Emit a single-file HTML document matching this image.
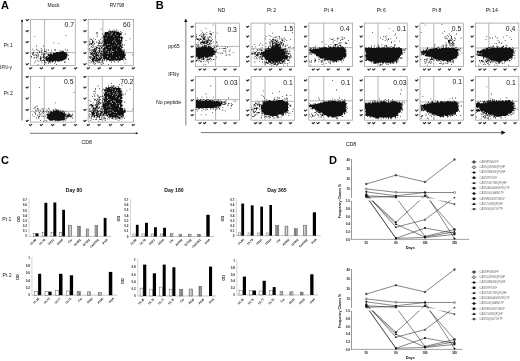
<!DOCTYPE html><html><head><meta charset="utf-8"><style>html,body{margin:0;padding:0;background:#fff;overflow:hidden}svg{display:block;will-change:transform}text{font-family:"Liberation Sans",sans-serif}</style></head><body><svg width="520" height="361" viewBox="0 0 520 361" font-family='"Liberation Sans", sans-serif'>
<defs><filter id="soft" x="-20%" y="-20%" width="140%" height="140%"><feGaussianBlur stdDeviation="0.45"/></filter><pattern id="hatch" width="1.2" height="4" patternUnits="userSpaceOnUse"><rect width="1.2" height="4" fill="#d0d0d0"/><rect width=".55" height="4" fill="#777"/></pattern></defs>
<rect width="520" height="361" fill="#fff"/>
<text x="1.0" y="9.0" font-size="11" text-anchor="start" font-weight="bold" fill="#000" >A</text>
<text x="53.5" y="7.4" font-size="5.0" text-anchor="middle" font-weight="normal" fill="#111" >Mock</text>
<text x="117" y="7.4" font-size="4.8" text-anchor="middle" font-weight="normal" fill="#111" >RV798</text>
<text x="3.8" y="46.6" font-size="5.1" text-anchor="start" font-weight="normal" fill="#111" >Pt 1</text>
<text x="3.8" y="95.0" font-size="5.1" text-anchor="start" font-weight="normal" fill="#111" >Pt 2</text>
<text x="0.1" y="69.4" font-size="4.8" text-anchor="start" font-weight="normal" fill="#111" >IFN-γ</text>
<line x1="22" y1="20" x2="22" y2="120.5" stroke="#a0a0a0" stroke-width="1.6" />
<rect x="21.2" y="19.8" width="1.6" height="2.2" fill="#222"/>
<line x1="30" y1="133.3" x2="136" y2="133.3" stroke="#666" stroke-width="0.9" />
<path d="M138.4 133.3l-2.6 -1.3v2.6z" fill="#222"/>
<text x="86.8" y="143.8" font-size="5.2" text-anchor="middle" font-weight="normal" fill="#111" >CD8</text>
<line x1="44.6" y1="19.5" x2="44.6" y2="65.4" stroke="#a8a8a8" stroke-width="0.85" />
<line x1="30.5" y1="52.6" x2="75.3" y2="52.6" stroke="#a8a8a8" stroke-width="0.85" />
<path transform="scale(0.8)" d="M82 44h1v1h-1zM43 45h1v1h-1zM67 53h1v1h-1zM73 54h1v1h-1zM45 57h1v1h-1zm9 0h1v1h-1zM51 60h1v1h-1zM40 61h1v1h-1zm5 0h1v1h-1zm10 0h1v1h-1zm26 0h1v1h-1zM46 62h1v1h-1zm6 0h1v1h-1zm6 0h1v1h-1zm2 0h1v1h-1zm8 0h2v1h-2zm16 0h1v1h-1zM42 63h1v1h-1zm6 0h1v1h-1zm3 0h1v1h-1zm4 0h1v1h-1zm9 0h1v1h-1zm10 0h2v1h-2zm4 0h1v1h-1zm4 0h1v1h-1zM49 64h1v1h-1zm2 0h1v1h-1zm4 0h3v1h-3zm21 0h4v1h-4zM41 65h1v1h-1zm5 0h1v1h-1zm3 0h1v1h-1zm3 0h1v1h-1zm11 0h1v1h-1zm7 0h12v1h-12zm13 0h1v1h-1zM41 66h1v1h-1zm17 0h1v1h-1zm8 0h17v1h-17zM40 67h2v1h-2zm7 0h1v1h-1zm5 0h1v1h-1zm2 0h2v1h-2zm3 0h1v1h-1zm3 0h1v1h-1zm2 0h3v1h-3zm4 0h18v1h-18zM42 68h1v1h-1zm2 0h2v1h-2zm4 0h1v1h-1zm3 0h1v1h-1zm3 0h2v1h-2zm5 0h26v1h-26zM42 69h1v1h-1zm3 0h1v1h-1zm2 0h1v1h-1zm7 0h1v1h-1zm6 0h24v1h-24zm25 0h1v1h-1zM39 70h1v1h-1zm8 0h1v1h-1zm3 0h1v1h-1zm4 0h2v1h-2zm4 0h2v1h-2zm3 0h23v1h-23zM39 71h1v1h-1zm4 0h1v1h-1zm2 0h1v1h-1zm2 0h1v1h-1zm4 0h1v1h-1zm2 0h2v1h-2zm4 0h2v1h-2zm3 0h24v1h-24zM42 72h1v1h-1zm3 0h1v1h-1zm5 0h2v1h-2zm4 0h29v1h-29zM48 73h1v1h-1zm2 0h2v1h-2zm7 0h26v1h-26zm28 0h1v1h-1zM50 74h1v1h-1zm4 0h1v1h-1zm3 0h24v1h-24zm28 0h1v1h-1zM46 75h1v1h-1zm4 0h1v1h-1zm2 0h4v1h-4zm5 0h22v1h-22zM44 76h1v1h-1zm4 0h1v1h-1zm3 0h1v1h-1zm4 0h2v1h-2zm4 0h1v1h-1zm2 0h7v1h-7zm8 0h1v1h-1zm2 0h4v1h-4zm5 0h1v1h-1zM60 77h3v1h-3zm5 0h1v1h-1zm4 0h1v1h-1zm11 0h2v1h-2zM43 78h1v1h-1zm9 0h1v1h-1zm3 0h3v1h-3zm8 0h1v1h-1zM60 79h1v1h-1zm8 0h1v1h-1zM47 80h1v1h-1zm8 0h1v1h-1zm15 0h1v1h-1z" fill="#111"/>
<rect x="30.50" y="19.50" width="44.80" height="45.90" fill="none" stroke="#a4a4a4" stroke-width="0.8" />
<text x="74.0" y="27.1" font-size="6.8" text-anchor="end" font-weight="normal" fill="#111" >0.7</text>
<path d="M26.10 19.80l.8 .9l1.5-1.2" fill="none" stroke="#2a2a2a" stroke-width="1.15" stroke-linecap="round" stroke-linejoin="round"/>
<path d="M26.10 30.80l.8 .9l1.5-1.2" fill="none" stroke="#2a2a2a" stroke-width="1.15" stroke-linecap="round" stroke-linejoin="round"/>
<path d="M26.10 41.80l.8 .9l1.5-1.2" fill="none" stroke="#2a2a2a" stroke-width="1.15" stroke-linecap="round" stroke-linejoin="round"/>
<path d="M26.10 52.80l.8 .9l1.5-1.2" fill="none" stroke="#2a2a2a" stroke-width="1.15" stroke-linecap="round" stroke-linejoin="round"/>
<path d="M26.10 63.90l.8 .9l1.5-1.2" fill="none" stroke="#2a2a2a" stroke-width="1.15" stroke-linecap="round" stroke-linejoin="round"/>
<path d="M29.50 68.00l.8 .9l1.5-1.2" fill="none" stroke="#2a2a2a" stroke-width="1.15" stroke-linecap="round" stroke-linejoin="round"/>
<path d="M40.30 68.00l.8 .9l1.5-1.2" fill="none" stroke="#2a2a2a" stroke-width="1.15" stroke-linecap="round" stroke-linejoin="round"/>
<path d="M51.60 68.00l.8 .9l1.5-1.2" fill="none" stroke="#2a2a2a" stroke-width="1.15" stroke-linecap="round" stroke-linejoin="round"/>
<path d="M63.10 68.00l.8 .9l1.5-1.2" fill="none" stroke="#2a2a2a" stroke-width="1.15" stroke-linecap="round" stroke-linejoin="round"/>
<path d="M74.50 68.00l.8 .9l1.5-1.2" fill="none" stroke="#2a2a2a" stroke-width="1.15" stroke-linecap="round" stroke-linejoin="round"/>
<line x1="102.9" y1="19.5" x2="102.9" y2="65.4" stroke="#a8a8a8" stroke-width="0.85" />
<line x1="88.2" y1="52.6" x2="133.6" y2="52.6" stroke="#a8a8a8" stroke-width="0.85" />
<path transform="scale(0.8)" d="M126 36h1v1h-1zM136 37h1v1h-1zm6 0h1v1h-1zm3 0h1v1h-1zM138 38h1v1h-1zm2 0h1v1h-1zm3 0h1v1h-1zm4 0h1v1h-1zM135 39h11v1h-11zm12 0h1v1h-1zm3 0h1v1h-1zM121 40h1v1h-1zm10 0h5v1h-5zm6 0h12v1h-12zm15 0h1v1h-1zM120 41h2v1h-2zm11 0h8v1h-8zm10 0h11v1h-11zM128 42h1v1h-1zm2 0h14v1h-14zm15 0h7v1h-7zm11 0h1v1h-1zM121 43h1v1h-1zm10 0h6v1h-6zm7 0h1v1h-1zm2 0h12v1h-12zM129 44h5v1h-5zm6 0h11v1h-11zm12 0h3v1h-3zM121 45h1v1h-1zm8 0h13v1h-13zm14 0h7v1h-7zm8 0h1v1h-1zM129 46h24v1h-24zM127 47h1v1h-1zm2 0h3v1h-3zm4 0h21v1h-21zM112 48h1v1h-1zm4 0h1v1h-1zm14 0h13v1h-13zm14 0h4v1h-4zm5 0h1v1h-1zm2 0h2v1h-2zm11 0h1v1h-1zM113 49h2v1h-2zm6 0h1v1h-1zm6 0h1v1h-1zm4 0h21v1h-21zm22 0h2v1h-2zM115 50h1v1h-1zm8 0h1v1h-1zm6 0h13v1h-13zm14 0h10v1h-10zm14 0h1v1h-1zM111 51h1v1h-1zm4 0h1v1h-1zm2 0h1v1h-1zm7 0h1v1h-1zm3 0h2v1h-2zm3 0h23v1h-23zM112 52h1v1h-1zm3 0h2v1h-2zm5 0h1v1h-1zm4 0h1v1h-1zm5 0h11v1h-11zm12 0h3v1h-3zm4 0h7v1h-7zM115 53h1v1h-1zm2 0h1v1h-1zm5 0h2v1h-2zm3 0h2v1h-2zm3 0h1v1h-1zm2 0h23v1h-23zM112 54h4v1h-4zm6 0h1v1h-1zm5 0h2v1h-2zm3 0h1v1h-1zm3 0h16v1h-16zm17 0h6v1h-6zM111 55h1v1h-1zm2 0h2v1h-2zm4 0h1v1h-1zm12 0h5v1h-5zm6 0h1v1h-1zm2 0h14v1h-14zm16 0h1v1h-1zM111 56h1v1h-1zm4 0h2v1h-2zm7 0h2v1h-2zm5 0h1v1h-1zm2 0h14v1h-14zm15 0h4v1h-4zm5 0h5v1h-5zm6 0h1v1h-1zM122 57h1v1h-1zm2 0h3v1h-3zm4 0h3v1h-3zm4 0h15v1h-15zm16 0h4v1h-4zM113 58h2v1h-2zm3 0h2v1h-2zm3 0h2v1h-2zm8 0h1v1h-1zm4 0h8v1h-8zm9 0h13v1h-13zM115 59h1v1h-1zm5 0h3v1h-3zm4 0h1v1h-1zm2 0h2v1h-2zm4 0h6v1h-6zm7 0h13v1h-13zm14 0h3v1h-3zM111 60h1v1h-1zm7 0h3v1h-3zm4 0h3v1h-3zm4 0h2v1h-2zm3 0h23v1h-23zM111 61h1v1h-1zm6 0h2v1h-2zm3 0h1v1h-1zm4 0h2v1h-2zm5 0h3v1h-3zm4 0h19v1h-19zM112 62h1v1h-1zm2 0h7v1h-7zm10 0h1v1h-1zm4 0h5v1h-5zm6 0h5v1h-5zm6 0h5v1h-5zm6 0h8v1h-8zm9 0h1v1h-1zM112 63h1v1h-1zm4 0h1v1h-1zm2 0h2v1h-2zm4 0h5v1h-5zm7 0h2v1h-2zm3 0h21v1h-21zm22 0h1v1h-1zM114 64h1v1h-1zm2 0h4v1h-4zm5 0h1v1h-1zm3 0h1v1h-1zm2 0h9v1h-9zm10 0h2v1h-2zm3 0h1v1h-1zm3 0h14v1h-14zM112 65h1v1h-1zm3 0h1v1h-1zm3 0h4v1h-4zm5 0h2v1h-2zm6 0h9v1h-9zm10 0h17v1h-17zM113 66h3v1h-3zm4 0h2v1h-2zm3 0h1v1h-1zm3 0h1v1h-1zm2 0h3v1h-3zm4 0h5v1h-5zm7 0h19v1h-19zM113 67h9v1h-9zm10 0h1v1h-1zm2 0h15v1h-15zm16 0h16v1h-16zM112 68h1v1h-1zm2 0h1v1h-1zm2 0h1v1h-1zm3 0h4v1h-4zm5 0h1v1h-1zm3 0h1v1h-1zm2 0h28v1h-28zm36 0h1v1h-1zM115 69h3v1h-3zm4 0h5v1h-5zm6 0h32v1h-32zM111 70h1v1h-1zm2 0h1v1h-1zm3 0h5v1h-5zm6 0h2v1h-2zm3 0h2v1h-2zm4 0h5v1h-5zm6 0h21v1h-21zM111 71h1v1h-1zm2 0h2v1h-2zm4 0h2v1h-2zm3 0h1v1h-1zm4 0h1v1h-1zm2 0h23v1h-23zm24 0h6v1h-6zM112 72h2v1h-2zm3 0h8v1h-8zm9 0h3v1h-3zm5 0h8v1h-8zm9 0h7v1h-7zm8 0h11v1h-11zM115 73h4v1h-4zm5 0h8v1h-8zm9 0h25v1h-25zM114 74h4v1h-4zm5 0h2v1h-2zm3 0h4v1h-4zm6 0h1v1h-1zm2 0h1v1h-1zm3 0h21v1h-21zm23 0h2v1h-2zM111 75h1v1h-1zm4 0h11v1h-11zm12 0h2v1h-2zm3 0h1v1h-1zm3 0h1v1h-1zm3 0h7v1h-7zm8 0h3v1h-3zm4 0h3v1h-3zm6 0h1v1h-1zM113 76h1v1h-1zm2 0h2v1h-2zm4 0h2v1h-2zm3 0h1v1h-1zm6 0h1v1h-1zm5 0h1v1h-1zm4 0h1v1h-1zm5 0h1v1h-1zm6 0h1v1h-1zM114 77h1v1h-1zm2 0h2v1h-2zm5 0h2v1h-2zm3 0h1v1h-1zm3 0h1v1h-1zm12 0h1v1h-1zm4 0h1v1h-1zm4 0h1v1h-1zM112 78h1v1h-1zm6 0h1v1h-1zm5 0h1v1h-1zm2 0h1v1h-1zm2 0h1v1h-1zm29 0h1v1h-1zM116 79h1v1h-1zm3 0h1v1h-1zm10 0h1v1h-1zM118 80h1v1h-1zm8 0h1v1h-1zm9 0h1v1h-1z" fill="#111"/>
<rect x="88.20" y="19.50" width="45.40" height="45.90" fill="none" stroke="#a4a4a4" stroke-width="0.8" />
<text x="130.6" y="27.2" font-size="6.8" text-anchor="end" font-weight="normal" fill="#111" >60</text>
<path d="M83.80 19.80l.8 .9l1.5-1.2" fill="none" stroke="#2a2a2a" stroke-width="1.15" stroke-linecap="round" stroke-linejoin="round"/>
<path d="M83.80 30.80l.8 .9l1.5-1.2" fill="none" stroke="#2a2a2a" stroke-width="1.15" stroke-linecap="round" stroke-linejoin="round"/>
<path d="M83.80 41.80l.8 .9l1.5-1.2" fill="none" stroke="#2a2a2a" stroke-width="1.15" stroke-linecap="round" stroke-linejoin="round"/>
<path d="M83.80 52.80l.8 .9l1.5-1.2" fill="none" stroke="#2a2a2a" stroke-width="1.15" stroke-linecap="round" stroke-linejoin="round"/>
<path d="M83.80 63.90l.8 .9l1.5-1.2" fill="none" stroke="#2a2a2a" stroke-width="1.15" stroke-linecap="round" stroke-linejoin="round"/>
<path d="M87.20 68.00l.8 .9l1.5-1.2" fill="none" stroke="#2a2a2a" stroke-width="1.15" stroke-linecap="round" stroke-linejoin="round"/>
<path d="M98.00 68.00l.8 .9l1.5-1.2" fill="none" stroke="#2a2a2a" stroke-width="1.15" stroke-linecap="round" stroke-linejoin="round"/>
<path d="M109.30 68.00l.8 .9l1.5-1.2" fill="none" stroke="#2a2a2a" stroke-width="1.15" stroke-linecap="round" stroke-linejoin="round"/>
<path d="M120.80 68.00l.8 .9l1.5-1.2" fill="none" stroke="#2a2a2a" stroke-width="1.15" stroke-linecap="round" stroke-linejoin="round"/>
<path d="M132.20 68.00l.8 .9l1.5-1.2" fill="none" stroke="#2a2a2a" stroke-width="1.15" stroke-linecap="round" stroke-linejoin="round"/>
<line x1="44.3" y1="76.3" x2="44.3" y2="122.1" stroke="#a8a8a8" stroke-width="0.85" />
<line x1="30.5" y1="111.3" x2="75.3" y2="111.3" stroke="#a8a8a8" stroke-width="0.85" />
<path transform="scale(0.8)" d="M49 109h1v1h-1zM92 115h1v1h-1zM69 128h1v1h-1zM46 132h1v1h-1zM44 133h1v1h-1zM43 134h1v1h-1zM42 135h1v1h-1zm4 0h2v1h-2zm7 0h1v1h-1zm7 0h1v1h-1zM51 136h1v1h-1zm3 0h1v1h-1zm4 0h1v1h-1zm3 0h1v1h-1zm7 0h2v1h-2zM44 137h1v1h-1zm3 0h2v1h-2zm19 0h1v1h-1zm4 0h2v1h-2zm3 0h1v1h-1zM45 138h1v1h-1zm5 0h1v1h-1zm3 0h2v1h-2zm6 0h1v1h-1zm3 0h1v1h-1zm4 0h8v1h-8zm9 0h1v1h-1zm2 0h2v1h-2zM54 139h1v1h-1zm3 0h1v1h-1zm3 0h1v1h-1zm3 0h2v1h-2zm3 0h10v1h-10zm11 0h1v1h-1zm2 0h1v1h-1zm2 0h1v1h-1zM43 140h1v1h-1zm6 0h1v1h-1zm4 0h1v1h-1zm5 0h1v1h-1zm2 0h1v1h-1zm2 0h17v1h-17zm18 0h1v1h-1zM44 141h1v1h-1zm5 0h1v1h-1zm2 0h1v1h-1zm3 0h1v1h-1zm8 0h19v1h-19zm23 0h1v1h-1zM44 142h1v1h-1zm15 0h23v1h-23zm24 0h1v1h-1zm3 0h1v1h-1zm4 0h1v1h-1zM40 143h1v1h-1zm7 0h1v1h-1zm2 0h2v1h-2zm3 0h1v1h-1zm5 0h26v1h-26zm27 0h5v1h-5zM46 144h1v1h-1zm13 0h23v1h-23zm24 0h5v1h-5zm6 0h2v1h-2zM42 145h1v1h-1zm6 0h2v1h-2zm4 0h1v1h-1zm2 0h1v1h-1zm2 0h1v1h-1zm3 0h31v1h-31zM48 146h1v1h-1zm11 0h22v1h-22zm25 0h2v1h-2zm4 0h1v1h-1zM45 147h1v1h-1zm3 0h1v1h-1zm10 0h23v1h-23zm24 0h2v1h-2zm8 0h1v1h-1zM60 148h23v1h-23zM61 149h20v1h-20zM50 150h1v1h-1zm7 0h1v1h-1zm5 0h4v1h-4zm5 0h1v1h-1zm2 0h8v1h-8zm9 0h1v1h-1zm3 0h1v1h-1zM54 151h1v1h-1zm4 0h1v1h-1zm11 0h1v1h-1zm3 0h1v1h-1zm7 0h1v1h-1z" fill="#111"/>
<rect x="30.50" y="76.30" width="44.80" height="45.80" fill="none" stroke="#a4a4a4" stroke-width="0.8" />
<text x="73.5" y="84.0" font-size="6.8" text-anchor="end" font-weight="normal" fill="#111" >0.5</text>
<path d="M26.10 76.60l.8 .9l1.5-1.2" fill="none" stroke="#2a2a2a" stroke-width="1.15" stroke-linecap="round" stroke-linejoin="round"/>
<path d="M26.10 87.20l.8 .9l1.5-1.2" fill="none" stroke="#2a2a2a" stroke-width="1.15" stroke-linecap="round" stroke-linejoin="round"/>
<path d="M26.10 98.20l.8 .9l1.5-1.2" fill="none" stroke="#2a2a2a" stroke-width="1.15" stroke-linecap="round" stroke-linejoin="round"/>
<path d="M26.10 109.60l.8 .9l1.5-1.2" fill="none" stroke="#2a2a2a" stroke-width="1.15" stroke-linecap="round" stroke-linejoin="round"/>
<path d="M26.10 120.60l.8 .9l1.5-1.2" fill="none" stroke="#2a2a2a" stroke-width="1.15" stroke-linecap="round" stroke-linejoin="round"/>
<path d="M29.50 124.70l.8 .9l1.5-1.2" fill="none" stroke="#2a2a2a" stroke-width="1.15" stroke-linecap="round" stroke-linejoin="round"/>
<path d="M40.30 124.70l.8 .9l1.5-1.2" fill="none" stroke="#2a2a2a" stroke-width="1.15" stroke-linecap="round" stroke-linejoin="round"/>
<path d="M51.60 124.70l.8 .9l1.5-1.2" fill="none" stroke="#2a2a2a" stroke-width="1.15" stroke-linecap="round" stroke-linejoin="round"/>
<path d="M63.10 124.70l.8 .9l1.5-1.2" fill="none" stroke="#2a2a2a" stroke-width="1.15" stroke-linecap="round" stroke-linejoin="round"/>
<path d="M74.50 124.70l.8 .9l1.5-1.2" fill="none" stroke="#2a2a2a" stroke-width="1.15" stroke-linecap="round" stroke-linejoin="round"/>
<line x1="102.3" y1="76.3" x2="102.3" y2="122.1" stroke="#a8a8a8" stroke-width="0.85" />
<line x1="88.2" y1="111.3" x2="133.6" y2="111.3" stroke="#a8a8a8" stroke-width="0.85" />
<path transform="scale(0.8)" d="M139 104h1v1h-1zM149 105h1v1h-1zM135 106h1v1h-1zm17 0h1v1h-1zM122 107h1v1h-1zm17 0h1v1h-1zm2 0h2v1h-2zM135 108h1v1h-1zm3 0h1v1h-1zm2 0h1v1h-1zm2 0h1v1h-1zm3 0h1v1h-1zm2 0h2v1h-2zM132 109h2v1h-2zm3 0h7v1h-7zm8 0h2v1h-2zm5 0h1v1h-1zM119 110h1v1h-1zm5 0h1v1h-1zm8 0h6v1h-6zm7 0h12v1h-12zM129 111h1v1h-1zm2 0h1v1h-1zm2 0h7v1h-7zm8 0h9v1h-9zm10 0h1v1h-1zm11 0h1v1h-1zM119 112h1v1h-1zm9 0h1v1h-1zm2 0h14v1h-14zm15 0h6v1h-6zM130 113h13v1h-13zm14 0h2v1h-2zm3 0h5v1h-5zm11 0h1v1h-1zM117 114h2v1h-2zm14 0h1v1h-1zm2 0h7v1h-7zm8 0h12v1h-12zM131 115h5v1h-5zm6 0h9v1h-9zm10 0h5v1h-5zM119 116h1v1h-1zm10 0h1v1h-1zm2 0h3v1h-3zm4 0h7v1h-7zm8 0h2v1h-2zm3 0h5v1h-5zm6 0h1v1h-1zM117 117h1v1h-1zm13 0h7v1h-7zm8 0h3v1h-3zm4 0h5v1h-5zm6 0h5v1h-5zm8 0h1v1h-1zM121 118h1v1h-1zm9 0h14v1h-14zm15 0h1v1h-1zm2 0h6v1h-6zm7 0h1v1h-1zM118 119h1v1h-1zm4 0h1v1h-1zm6 0h1v1h-1zm2 0h10v1h-10zm11 0h12v1h-12zM115 120h1v1h-1zm3 0h1v1h-1zm4 0h1v1h-1zm3 0h1v1h-1zm2 0h2v1h-2zm4 0h14v1h-14zm15 0h6v1h-6zM123 121h2v1h-2zm6 0h5v1h-5zm6 0h9v1h-9zm10 0h8v1h-8zM124 122h1v1h-1zm7 0h3v1h-3zm4 0h14v1h-14zm15 0h3v1h-3zM117 123h1v1h-1zm4 0h2v1h-2zm7 0h20v1h-20zm21 0h4v1h-4zM118 124h2v1h-2zm4 0h1v1h-1zm2 0h2v1h-2zm5 0h6v1h-6zm7 0h1v1h-1zm2 0h13v1h-13zM111 125h1v1h-1zm7 0h1v1h-1zm2 0h1v1h-1zm2 0h1v1h-1zm2 0h1v1h-1zm4 0h1v1h-1zm2 0h4v1h-4zm5 0h7v1h-7zm8 0h10v1h-10zM113 126h1v1h-1zm9 0h2v1h-2zm6 0h1v1h-1zm2 0h12v1h-12zm13 0h10v1h-10zM120 127h1v1h-1zm2 0h1v1h-1zm2 0h1v1h-1zm4 0h1v1h-1zm2 0h2v1h-2zm3 0h5v1h-5zm7 0h4v1h-4zm5 0h8v1h-8zm10 0h1v1h-1zM116 128h1v1h-1zm5 0h1v1h-1zm2 0h3v1h-3zm4 0h3v1h-3zm4 0h21v1h-21zM120 129h1v1h-1zm2 0h2v1h-2zm3 0h1v1h-1zm4 0h11v1h-11zm12 0h4v1h-4zm5 0h2v1h-2zm3 0h3v1h-3zM113 130h2v1h-2zm6 0h4v1h-4zm5 0h1v1h-1zm4 0h24v1h-24zM112 131h5v1h-5zm6 0h1v1h-1zm4 0h1v1h-1zm6 0h9v1h-9zm10 0h7v1h-7zm8 0h3v1h-3zm4 0h4v1h-4zM111 132h1v1h-1zm3 0h3v1h-3zm5 0h4v1h-4zm9 0h8v1h-8zm9 0h12v1h-12zm13 0h3v1h-3zM115 133h1v1h-1zm5 0h2v1h-2zm4 0h1v1h-1zm2 0h7v1h-7zm8 0h15v1h-15zm16 0h1v1h-1zm2 0h1v1h-1zM114 134h1v1h-1zm2 0h2v1h-2zm3 0h4v1h-4zm5 0h1v1h-1zm5 0h9v1h-9zm10 0h13v1h-13zM112 135h1v1h-1zm4 0h5v1h-5zm6 0h2v1h-2zm4 0h1v1h-1zm3 0h25v1h-25zm26 0h1v1h-1zM111 136h1v1h-1zm4 0h3v1h-3zm4 0h1v1h-1zm3 0h1v1h-1zm3 0h23v1h-23zm24 0h5v1h-5zm16 0h1v1h-1zM112 137h1v1h-1zm5 0h5v1h-5zm13 0h6v1h-6zm7 0h1v1h-1zm2 0h15v1h-15zm16 0h2v1h-2zM111 138h1v1h-1zm3 0h5v1h-5zm7 0h2v1h-2zm3 0h2v1h-2zm3 0h2v1h-2zm3 0h4v1h-4zm5 0h5v1h-5zm6 0h16v1h-16zM112 139h2v1h-2zm4 0h2v1h-2zm3 0h1v1h-1zm2 0h3v1h-3zm4 0h3v1h-3zm4 0h12v1h-12zm13 0h15v1h-15zM114 140h4v1h-4zm5 0h4v1h-4zm7 0h3v1h-3zm4 0h8v1h-8zm9 0h4v1h-4zm5 0h1v1h-1zm2 0h11v1h-11zM114 141h5v1h-5zm6 0h1v1h-1zm2 0h1v1h-1zm2 0h4v1h-4zm5 0h7v1h-7zm8 0h18v1h-18zM111 142h1v1h-1zm4 0h4v1h-4zm5 0h4v1h-4zm5 0h2v1h-2zm4 0h5v1h-5zm6 0h20v1h-20zM113 143h5v1h-5zm7 0h2v1h-2zm3 0h3v1h-3zm4 0h3v1h-3zm6 0h9v1h-9zm10 0h11v1h-11zM111 144h1v1h-1zm4 0h1v1h-1zm2 0h6v1h-6zm7 0h2v1h-2zm3 0h1v1h-1zm2 0h2v1h-2zm3 0h3v1h-3zm4 0h11v1h-11zm12 0h3v1h-3zm4 0h3v1h-3zM111 145h1v1h-1zm3 0h2v1h-2zm3 0h2v1h-2zm4 0h4v1h-4zm5 0h1v1h-1zm8 0h1v1h-1zm2 0h12v1h-12zm15 0h2v1h-2zm3 0h1v1h-1zM114 146h1v1h-1zm3 0h2v1h-2zm4 0h2v1h-2zm3 0h1v1h-1zm5 0h2v1h-2zm6 0h4v1h-4zm5 0h14v1h-14zM112 147h1v1h-1zm8 0h1v1h-1zm4 0h1v1h-1zm2 0h1v1h-1zm5 0h1v1h-1zm8 0h2v1h-2zm5 0h1v1h-1zm3 0h3v1h-3zm8 0h1v1h-1zM114 148h1v1h-1zm15 0h3v1h-3zm5 0h1v1h-1zm2 0h1v1h-1zm4 0h1v1h-1zm2 0h1v1h-1zm3 0h2v1h-2zm4 0h2v1h-2zm3 0h1v1h-1zM116 149h1v1h-1zm3 0h2v1h-2zm5 0h3v1h-3zm20 0h1v1h-1zM113 150h1v1h-1zm18 0h1v1h-1zm17 0h1v1h-1zM123 151h1v1h-1z" fill="#111"/>
<rect x="88.20" y="76.30" width="45.40" height="45.80" fill="none" stroke="#a4a4a4" stroke-width="0.8" />
<text x="133.4" y="84.0" font-size="6.8" text-anchor="end" font-weight="normal" fill="#111" >70.2</text>
<path d="M83.80 76.60l.8 .9l1.5-1.2" fill="none" stroke="#2a2a2a" stroke-width="1.15" stroke-linecap="round" stroke-linejoin="round"/>
<path d="M83.80 87.20l.8 .9l1.5-1.2" fill="none" stroke="#2a2a2a" stroke-width="1.15" stroke-linecap="round" stroke-linejoin="round"/>
<path d="M83.80 98.20l.8 .9l1.5-1.2" fill="none" stroke="#2a2a2a" stroke-width="1.15" stroke-linecap="round" stroke-linejoin="round"/>
<path d="M83.80 109.60l.8 .9l1.5-1.2" fill="none" stroke="#2a2a2a" stroke-width="1.15" stroke-linecap="round" stroke-linejoin="round"/>
<path d="M83.80 120.60l.8 .9l1.5-1.2" fill="none" stroke="#2a2a2a" stroke-width="1.15" stroke-linecap="round" stroke-linejoin="round"/>
<path d="M87.20 124.70l.8 .9l1.5-1.2" fill="none" stroke="#2a2a2a" stroke-width="1.15" stroke-linecap="round" stroke-linejoin="round"/>
<path d="M98.00 124.70l.8 .9l1.5-1.2" fill="none" stroke="#2a2a2a" stroke-width="1.15" stroke-linecap="round" stroke-linejoin="round"/>
<path d="M109.30 124.70l.8 .9l1.5-1.2" fill="none" stroke="#2a2a2a" stroke-width="1.15" stroke-linecap="round" stroke-linejoin="round"/>
<path d="M120.80 124.70l.8 .9l1.5-1.2" fill="none" stroke="#2a2a2a" stroke-width="1.15" stroke-linecap="round" stroke-linejoin="round"/>
<path d="M132.20 124.70l.8 .9l1.5-1.2" fill="none" stroke="#2a2a2a" stroke-width="1.15" stroke-linecap="round" stroke-linejoin="round"/>
<text x="155.8" y="9.0" font-size="11" text-anchor="start" font-weight="bold" fill="#000" >B</text>
<line x1="185.8" y1="21" x2="185.8" y2="125.6" stroke="#8a8a8a" stroke-width="1.1" />
<path d="M185.8 18.6l-1.7 3.4h3.4z" fill="#111"/>
<text x="168.2" y="48.2" font-size="5.2" text-anchor="start" font-weight="normal" fill="#111" >pp65</text>
<text x="168.2" y="75.9" font-size="5.2" text-anchor="start" font-weight="normal" fill="#111" >IFNγ</text>
<text x="156.0" y="104.2" font-size="5.2" text-anchor="start" font-weight="normal" fill="#111" >No peptide</text>
<line x1="201" y1="132.6" x2="502" y2="132.6" stroke="#555" stroke-width="0.8" />
<path d="M505.6 132.6l-4.2 -2.2v4.4z" fill="#111"/>
<text x="351" y="145.8" font-size="5.2" text-anchor="middle" font-weight="normal" fill="#111" >CD8</text>
<text x="221.5" y="11.8" font-size="5.2" text-anchor="middle" font-weight="normal" fill="#111" >ND</text>
<text x="271.5" y="11.8" font-size="5.2" text-anchor="middle" font-weight="normal" fill="#111" >Pt 2</text>
<text x="328.7" y="11.8" font-size="5.2" text-anchor="middle" font-weight="normal" fill="#111" >Pt 4</text>
<text x="381.4" y="11.8" font-size="5.2" text-anchor="middle" font-weight="normal" fill="#111" >Pt 6</text>
<text x="436.8" y="11.8" font-size="5.2" text-anchor="middle" font-weight="normal" fill="#111" >Pt 8</text>
<text x="491.8" y="11.8" font-size="5.2" text-anchor="middle" font-weight="normal" fill="#111" >Pt 14</text>
<line x1="215.6" y1="23.1" x2="215.6" y2="66.6" stroke="#a8a8a8" stroke-width="0.85" />
<line x1="195.5" y1="46.4" x2="239.5" y2="46.4" stroke="#a8a8a8" stroke-width="0.85" />
<path transform="scale(0.8)" d="M266 31h1v1h-1zM257 35h1v1h-1zM251 38h1v1h-1zM262 39h1v1h-1zM253 40h1v1h-1zm5 0h1v1h-1zm8 0h1v1h-1zM262 41h1v1h-1zm9 0h1v1h-1zM252 42h1v1h-1zm2 0h1v1h-1zm2 0h1v1h-1zm6 0h3v1h-3zM245 43h1v1h-1zm5 0h1v1h-1zm4 0h2v1h-2zm4 0h1v1h-1zm6 0h1v1h-1zM249 44h1v1h-1zm3 0h1v1h-1zm2 0h1v1h-1zM245 45h1v1h-1zm6 0h2v1h-2zm3 0h1v1h-1zm2 0h1v1h-1zm6 0h1v1h-1zM245 46h1v1h-1zm8 0h1v1h-1zm2 0h2v1h-2zm4 0h1v1h-1zm2 0h2v1h-2zm8 0h1v1h-1zM252 47h1v1h-1zm2 0h2v1h-2zm6 0h1v1h-1zm4 0h1v1h-1zM245 48h3v1h-3zm4 0h2v1h-2zm4 0h4v1h-4zm6 0h1v1h-1zM246 49h3v1h-3zm4 0h2v1h-2zm4 0h2v1h-2zm3 0h1v1h-1zm3 0h2v1h-2zm5 0h1v1h-1zM249 50h1v1h-1zm4 0h1v1h-1zm4 0h1v1h-1zm2 0h4v1h-4zm5 0h1v1h-1zM248 51h1v1h-1zm5 0h1v1h-1zm2 0h5v1h-5zm8 0h2v1h-2zM251 52h5v1h-5zm7 0h3v1h-3zm4 0h1v1h-1zm4 0h1v1h-1zm4 0h1v1h-1zM247 53h1v1h-1zm3 0h10v1h-10zm12 0h1v1h-1zm9 0h1v1h-1zM250 54h1v1h-1zm4 0h2v1h-2zm3 0h2v1h-2zm4 0h2v1h-2zm3 0h1v1h-1zM245 55h1v1h-1zm3 0h1v1h-1zm3 0h1v1h-1zm2 0h1v1h-1zm6 0h3v1h-3zm4 0h1v1h-1zM246 56h2v1h-2zm9 0h4v1h-4zm12 0h1v1h-1zm4 0h1v1h-1zM248 57h1v1h-1zm5 0h1v1h-1zm2 0h1v1h-1zm2 0h1v1h-1zm3 0h1v1h-1zm2 0h1v1h-1zm9 0h1v1h-1zM246 58h1v1h-1zm6 0h7v1h-7zm8 0h3v1h-3zm10 0h1v1h-1zm11 0h1v1h-1zM245 59h1v1h-1zm2 0h18v1h-18zm20 0h2v1h-2zm17 0h1v1h-1zM245 60h23v1h-23zm29 0h1v1h-1zm3 0h1v1h-1zm2 0h3v1h-3zM245 61h22v1h-22zm26 0h1v1h-1zm11 0h1v1h-1zM245 62h23v1h-23zm25 0h1v1h-1zm17 0h1v1h-1zM245 63h24v1h-24zm34 0h1v1h-1zm2 0h1v1h-1zM245 64h26v1h-26zm36 0h1v1h-1zm5 0h1v1h-1zM245 65h25v1h-25zm26 0h1v1h-1zm20 0h1v1h-1zM245 66h23v1h-23zm28 0h1v1h-1zm2 0h1v1h-1zm2 0h2v1h-2zm5 0h1v1h-1zM245 67h24v1h-24zM245 68h23v1h-23zm38 0h1v1h-1zm3 0h2v1h-2zM245 69h21v1h-21zm37 0h1v1h-1zM245 70h21v1h-21zM245 71h1v1h-1zm2 0h8v1h-8zm9 0h5v1h-5zm14 0h1v1h-1zM247 72h5v1h-5zm6 0h2v1h-2zm4 0h1v1h-1zm2 0h1v1h-1zm3 0h1v1h-1zM246 73h1v1h-1zm2 0h2v1h-2zm4 0h1v1h-1zm2 0h2v1h-2zm7 0h3v1h-3zM247 74h1v1h-1zm4 0h1v1h-1zm2 0h2v1h-2zm5 0h4v1h-4zm6 0h1v1h-1zm2 0h2v1h-2zM245 75h2v1h-2zm4 0h1v1h-1zm9 0h1v1h-1zM245 76h1v1h-1zm3 0h1v1h-1zm2 0h2v1h-2zm4 0h1v1h-1zm2 0h1v1h-1zm3 0h2v1h-2zm4 0h1v1h-1zM251 77h1v1h-1zM260 78h1v1h-1zM256 80h1v1h-1zM254 81h1v1h-1z" fill="#111"/>
<rect x="195.50" y="23.10" width="44.00" height="43.50" fill="none" stroke="#a4a4a4" stroke-width="0.8" />
<text x="236.9" y="31.9" font-size="6.8" text-anchor="end" font-weight="normal" fill="#111" >0.3</text>
<path d="M191.10 26.40l.8 .9l1.5-1.2" fill="none" stroke="#2a2a2a" stroke-width="1.15" stroke-linecap="round" stroke-linejoin="round"/>
<path d="M191.10 36.20l.8 .9l1.5-1.2" fill="none" stroke="#2a2a2a" stroke-width="1.15" stroke-linecap="round" stroke-linejoin="round"/>
<path d="M191.10 46.20l.8 .9l1.5-1.2" fill="none" stroke="#2a2a2a" stroke-width="1.15" stroke-linecap="round" stroke-linejoin="round"/>
<path d="M191.10 56.50l.8 .9l1.5-1.2" fill="none" stroke="#2a2a2a" stroke-width="1.15" stroke-linecap="round" stroke-linejoin="round"/>
<path d="M191.10 61.10l.8 .9l1.5-1.2" fill="none" stroke="#2a2a2a" stroke-width="1.15" stroke-linecap="round" stroke-linejoin="round"/>
<path d="M198.90 69.20l.8 .9l1.5-1.2" fill="none" stroke="#2a2a2a" stroke-width="1.15" stroke-linecap="round" stroke-linejoin="round"/>
<path d="M203.60 69.20l.8 .9l1.5-1.2" fill="none" stroke="#2a2a2a" stroke-width="1.15" stroke-linecap="round" stroke-linejoin="round"/>
<path d="M213.90 69.20l.8 .9l1.5-1.2" fill="none" stroke="#2a2a2a" stroke-width="1.15" stroke-linecap="round" stroke-linejoin="round"/>
<path d="M223.90 69.20l.8 .9l1.5-1.2" fill="none" stroke="#2a2a2a" stroke-width="1.15" stroke-linecap="round" stroke-linejoin="round"/>
<path d="M233.90 69.20l.8 .9l1.5-1.2" fill="none" stroke="#2a2a2a" stroke-width="1.15" stroke-linecap="round" stroke-linejoin="round"/>
<line x1="215.6" y1="76.6" x2="215.6" y2="120.2" stroke="#a8a8a8" stroke-width="0.85" />
<line x1="195.5" y1="99.6" x2="239.5" y2="99.6" stroke="#a8a8a8" stroke-width="0.85" />
<path transform="scale(0.8)" d="M263 107h1v1h-1zM257 117h1v1h-1zM252 121h1v1h-1zm6 0h1v1h-1zm8 0h1v1h-1zM246 122h1v1h-1zm39 0h1v1h-1zM247 124h1v1h-1zm3 0h2v1h-2zm4 0h1v1h-1zm4 0h3v1h-3zm14 0h1v1h-1zM245 125h3v1h-3zm4 0h2v1h-2zm4 0h1v1h-1zm3 0h3v1h-3zm5 0h3v1h-3zm4 0h2v1h-2zm8 0h1v1h-1zm9 0h1v1h-1zM245 126h21v1h-21zm22 0h2v1h-2zm3 0h3v1h-3zm5 0h2v1h-2zm17 0h1v1h-1zm2 0h1v1h-1zM245 127h30v1h-30zm31 0h2v1h-2zm3 0h4v1h-4zM245 128h34v1h-34zm35 0h1v1h-1zM245 129h33v1h-33zm36 0h2v1h-2zm4 0h2v1h-2zm4 0h1v1h-1zM245 130h32v1h-32zm33 0h4v1h-4zm12 0h1v1h-1zM245 131h32v1h-32zm39 0h2v1h-2zm5 0h1v1h-1zM245 132h31v1h-31zm44 0h1v1h-1zM245 133h26v1h-26zm27 0h1v1h-1zM245 134h23v1h-23zm24 0h2v1h-2zm3 0h2v1h-2zm6 0h1v1h-1zM248 135h2v1h-2zm3 0h1v1h-1zm2 0h1v1h-1zm4 0h1v1h-1zm6 0h1v1h-1zm3 0h1v1h-1zm5 0h1v1h-1zm3 0h1v1h-1zm14 0h1v1h-1zM245 136h2v1h-2zm3 0h1v1h-1zm6 0h1v1h-1zm4 0h2v1h-2zm5 0h1v1h-1zm3 0h1v1h-1zm4 0h1v1h-1zm4 0h1v1h-1zM256 137h1v1h-1zm13 0h1v1h-1zm9 0h1v1h-1zM246 138h1v1h-1zm6 0h1v1h-1zm29 0h1v1h-1zM265 140h1v1h-1zM251 143h1v1h-1zm6 0h1v1h-1z" fill="#111"/>
<rect x="195.50" y="76.60" width="44.00" height="43.60" fill="none" stroke="#a4a4a4" stroke-width="0.8" />
<text x="237.5" y="84.5" font-size="6.8" text-anchor="end" font-weight="normal" fill="#111" >0.03</text>
<path d="M191.10 80.10l.8 .9l1.5-1.2" fill="none" stroke="#2a2a2a" stroke-width="1.15" stroke-linecap="round" stroke-linejoin="round"/>
<path d="M191.10 89.90l.8 .9l1.5-1.2" fill="none" stroke="#2a2a2a" stroke-width="1.15" stroke-linecap="round" stroke-linejoin="round"/>
<path d="M191.10 99.90l.8 .9l1.5-1.2" fill="none" stroke="#2a2a2a" stroke-width="1.15" stroke-linecap="round" stroke-linejoin="round"/>
<path d="M191.10 110.20l.8 .9l1.5-1.2" fill="none" stroke="#2a2a2a" stroke-width="1.15" stroke-linecap="round" stroke-linejoin="round"/>
<path d="M191.10 114.80l.8 .9l1.5-1.2" fill="none" stroke="#2a2a2a" stroke-width="1.15" stroke-linecap="round" stroke-linejoin="round"/>
<path d="M198.90 122.80l.8 .9l1.5-1.2" fill="none" stroke="#2a2a2a" stroke-width="1.15" stroke-linecap="round" stroke-linejoin="round"/>
<path d="M203.60 122.80l.8 .9l1.5-1.2" fill="none" stroke="#2a2a2a" stroke-width="1.15" stroke-linecap="round" stroke-linejoin="round"/>
<path d="M213.90 122.80l.8 .9l1.5-1.2" fill="none" stroke="#2a2a2a" stroke-width="1.15" stroke-linecap="round" stroke-linejoin="round"/>
<path d="M223.90 122.80l.8 .9l1.5-1.2" fill="none" stroke="#2a2a2a" stroke-width="1.15" stroke-linecap="round" stroke-linejoin="round"/>
<path d="M233.90 122.80l.8 .9l1.5-1.2" fill="none" stroke="#2a2a2a" stroke-width="1.15" stroke-linecap="round" stroke-linejoin="round"/>
<line x1="265.0" y1="23.1" x2="265.0" y2="66.6" stroke="#a8a8a8" stroke-width="0.85" />
<line x1="251.0" y1="48.8" x2="294.6" y2="48.8" stroke="#a8a8a8" stroke-width="0.85" />
<path transform="scale(0.8)" d="M337 30h1v1h-1zM365 40h1v1h-1zM340 41h1v1h-1zM336 44h1v1h-1zM332 45h1v1h-1zm6 0h1v1h-1zm9 0h1v1h-1zm2 0h1v1h-1zM341 46h1v1h-1zm2 0h3v1h-3zm6 0h1v1h-1zM355 47h1v1h-1zM331 48h1v1h-1zm10 0h1v1h-1zm5 0h1v1h-1zm3 0h1v1h-1zm2 0h2v1h-2zM337 49h1v1h-1zm3 0h3v1h-3zm4 0h1v1h-1zm9 0h1v1h-1zm3 0h1v1h-1zm7 0h1v1h-1zM339 50h1v1h-1zm2 0h1v1h-1zm2 0h2v1h-2zm3 0h1v1h-1zm6 0h2v1h-2zm6 0h1v1h-1zM338 51h1v1h-1zm2 0h2v1h-2zm4 0h3v1h-3zm9 0h1v1h-1zm2 0h1v1h-1zM337 52h1v1h-1zm2 0h2v1h-2zm3 0h1v1h-1zm3 0h2v1h-2zm3 0h1v1h-1zm2 0h2v1h-2zM337 53h1v1h-1zm3 0h1v1h-1zm2 0h3v1h-3zm5 0h2v1h-2zm4 0h3v1h-3zM325 54h1v1h-1zm7 0h1v1h-1zm5 0h1v1h-1zm3 0h3v1h-3zm4 0h3v1h-3zm5 0h3v1h-3zm5 0h1v1h-1zM318 55h1v1h-1zm20 0h1v1h-1zm2 0h1v1h-1zm4 0h6v1h-6zm7 0h1v1h-1zm3 0h1v1h-1zM324 56h1v1h-1zm4 0h1v1h-1zm9 0h1v1h-1zm3 0h11v1h-11zm12 0h3v1h-3zm5 0h1v1h-1zm2 0h1v1h-1zM338 57h1v1h-1zm2 0h2v1h-2zm3 0h6v1h-6zm7 0h1v1h-1zm6 0h1v1h-1zM315 58h1v1h-1zm4 0h1v1h-1zm13 0h1v1h-1zm3 0h2v1h-2zm3 0h13v1h-13zm15 0h1v1h-1zm3 0h1v1h-1zm6 0h1v1h-1zM327 59h1v1h-1zm8 0h1v1h-1zm4 0h13v1h-13zm21 0h1v1h-1zm2 0h1v1h-1zm4 0h1v1h-1zM333 60h4v1h-4zm5 0h13v1h-13zm18 0h1v1h-1zM316 61h1v1h-1zm9 0h1v1h-1zm6 0h2v1h-2zm4 0h23v1h-23zM321 62h2v1h-2zm3 0h1v1h-1zm2 0h2v1h-2zm5 0h25v1h-25zm26 0h1v1h-1zM326 63h2v1h-2zm5 0h24v1h-24zm25 0h2v1h-2zm3 0h1v1h-1zm3 0h1v1h-1zM317 64h1v1h-1zm3 0h1v1h-1zm9 0h29v1h-29zm30 0h1v1h-1zm2 0h1v1h-1zM318 65h2v1h-2zm4 0h3v1h-3zm4 0h31v1h-31zm32 0h1v1h-1zM314 66h3v1h-3zm4 0h2v1h-2zm3 0h1v1h-1zm5 0h35v1h-35zm36 0h1v1h-1zM314 67h2v1h-2zm3 0h2v1h-2zm4 0h36v1h-36zm37 0h1v1h-1zm2 0h2v1h-2zM319 68h4v1h-4zm6 0h2v1h-2zm3 0h29v1h-29zm30 0h1v1h-1zm5 0h1v1h-1zM320 69h3v1h-3zm7 0h33v1h-33zm36 0h1v1h-1zM319 70h1v1h-1zm2 0h1v1h-1zm4 0h1v1h-1zm2 0h35v1h-35zm36 0h1v1h-1zM317 71h1v1h-1zm6 0h4v1h-4zm5 0h1v1h-1zm2 0h30v1h-30zm32 0h1v1h-1zm2 0h1v1h-1zM320 72h1v1h-1zm7 0h1v1h-1zm4 0h29v1h-29zm30 0h2v1h-2zM318 73h1v1h-1zm3 0h1v1h-1zm3 0h1v1h-1zm2 0h2v1h-2zm5 0h28v1h-28zM327 74h2v1h-2zm5 0h22v1h-22zm23 0h1v1h-1zm2 0h1v1h-1zm2 0h2v1h-2zM333 75h1v1h-1zm2 0h18v1h-18zm19 0h2v1h-2zm5 0h3v1h-3zM324 76h1v1h-1zm11 0h22v1h-22zM318 77h1v1h-1zm10 0h1v1h-1zm2 0h1v1h-1zm2 0h2v1h-2zm3 0h4v1h-4zm5 0h3v1h-3zm4 0h4v1h-4zm5 0h1v1h-1zm3 0h3v1h-3zM332 78h3v1h-3zm5 0h3v1h-3zm4 0h4v1h-4zm5 0h1v1h-1zm2 0h3v1h-3zm4 0h1v1h-1zm3 0h1v1h-1zm6 0h1v1h-1zM331 79h1v1h-1zm3 0h2v1h-2zm5 0h2v1h-2zm3 0h1v1h-1zm2 0h1v1h-1zm3 0h2v1h-2zm3 0h2v1h-2zm3 0h1v1h-1zm3 0h1v1h-1zm3 0h1v1h-1zM331 80h1v1h-1zm6 0h1v1h-1zm5 0h3v1h-3zm4 0h2v1h-2zM339 81h1v1h-1zm2 0h1v1h-1zm4 0h2v1h-2zm9 0h1v1h-1zm5 0h1v1h-1z" fill="#111"/>
<rect x="251.00" y="23.10" width="43.60" height="43.50" fill="none" stroke="#a4a4a4" stroke-width="0.8" />
<text x="293.3" y="31.4" font-size="6.8" text-anchor="end" font-weight="normal" fill="#111" >1.5</text>
<path d="M246.60 26.40l.8 .9l1.5-1.2" fill="none" stroke="#2a2a2a" stroke-width="1.15" stroke-linecap="round" stroke-linejoin="round"/>
<path d="M246.60 36.20l.8 .9l1.5-1.2" fill="none" stroke="#2a2a2a" stroke-width="1.15" stroke-linecap="round" stroke-linejoin="round"/>
<path d="M246.60 46.20l.8 .9l1.5-1.2" fill="none" stroke="#2a2a2a" stroke-width="1.15" stroke-linecap="round" stroke-linejoin="round"/>
<path d="M246.60 56.50l.8 .9l1.5-1.2" fill="none" stroke="#2a2a2a" stroke-width="1.15" stroke-linecap="round" stroke-linejoin="round"/>
<path d="M246.60 61.10l.8 .9l1.5-1.2" fill="none" stroke="#2a2a2a" stroke-width="1.15" stroke-linecap="round" stroke-linejoin="round"/>
<path d="M254.40 69.20l.8 .9l1.5-1.2" fill="none" stroke="#2a2a2a" stroke-width="1.15" stroke-linecap="round" stroke-linejoin="round"/>
<path d="M259.10 69.20l.8 .9l1.5-1.2" fill="none" stroke="#2a2a2a" stroke-width="1.15" stroke-linecap="round" stroke-linejoin="round"/>
<path d="M269.40 69.20l.8 .9l1.5-1.2" fill="none" stroke="#2a2a2a" stroke-width="1.15" stroke-linecap="round" stroke-linejoin="round"/>
<path d="M279.40 69.20l.8 .9l1.5-1.2" fill="none" stroke="#2a2a2a" stroke-width="1.15" stroke-linecap="round" stroke-linejoin="round"/>
<path d="M289.40 69.20l.8 .9l1.5-1.2" fill="none" stroke="#2a2a2a" stroke-width="1.15" stroke-linecap="round" stroke-linejoin="round"/>
<line x1="265.0" y1="76.6" x2="265.0" y2="120.2" stroke="#a8a8a8" stroke-width="0.85" />
<line x1="251.0" y1="101.3" x2="294.6" y2="101.3" stroke="#a8a8a8" stroke-width="0.85" />
<path transform="scale(0.8)" d="M329 113h1v1h-1zM349 114h1v1h-1zM340 116h1v1h-1zM358 118h1v1h-1zM327 119h1v1h-1zm31 0h1v1h-1zm5 0h1v1h-1zM329 120h1v1h-1zm24 0h1v1h-1zM346 121h1v1h-1zM330 122h1v1h-1zm13 0h1v1h-1zm4 0h1v1h-1zm2 0h1v1h-1zm9 0h1v1h-1zM355 123h1v1h-1zm2 0h1v1h-1zm2 0h1v1h-1zM333 124h1v1h-1zm9 0h2v1h-2zm4 0h1v1h-1zm7 0h1v1h-1zm4 0h1v1h-1zM328 125h1v1h-1zm2 0h1v1h-1zm6 0h2v1h-2zm6 0h1v1h-1zm3 0h1v1h-1zm2 0h7v1h-7zm12 0h1v1h-1zM332 126h24v1h-24zM322 127h1v1h-1zm6 0h32v1h-32zM319 128h1v1h-1zm5 0h1v1h-1zm5 0h31v1h-31zM319 129h2v1h-2zm3 0h1v1h-1zm6 0h33v1h-33zM317 130h2v1h-2zm4 0h2v1h-2zm3 0h2v1h-2zm4 0h33v1h-33zM318 131h1v1h-1zm3 0h1v1h-1zm2 0h2v1h-2zm3 0h34v1h-34zm35 0h1v1h-1zm2 0h1v1h-1zM317 132h1v1h-1zm2 0h1v1h-1zm5 0h1v1h-1zm2 0h34v1h-34zm36 0h2v1h-2zM314 133h1v1h-1zm10 0h1v1h-1zm2 0h34v1h-34zM317 134h1v1h-1zm3 0h2v1h-2zm6 0h35v1h-35zM317 135h6v1h-6zm9 0h34v1h-34zM314 136h2v1h-2zm4 0h1v1h-1zm2 0h1v1h-1zm4 0h1v1h-1zm2 0h34v1h-34zm40 0h1v1h-1zM314 137h1v1h-1zm2 0h1v1h-1zm4 0h1v1h-1zm7 0h33v1h-33zM316 138h1v1h-1zm10 0h35v1h-35zM316 139h1v1h-1zm2 0h2v1h-2zm9 0h32v1h-32zm38 0h1v1h-1zM317 140h2v1h-2zm4 0h4v1h-4zm6 0h1v1h-1zm2 0h28v1h-28zm29 0h2v1h-2zM316 141h1v1h-1zm4 0h1v1h-1zm3 0h1v1h-1zm4 0h28v1h-28zm29 0h2v1h-2zm4 0h1v1h-1zm2 0h1v1h-1zM327 142h1v1h-1zm3 0h25v1h-25zM314 143h1v1h-1zm4 0h2v1h-2zm3 0h1v1h-1zm9 0h1v1h-1zm2 0h16v1h-16zm20 0h1v1h-1zm2 0h1v1h-1zm2 0h1v1h-1zM318 144h1v1h-1zm9 0h1v1h-1zm10 0h10v1h-10zm15 0h2v1h-2zm8 0h1v1h-1zM315 145h3v1h-3zm16 0h2v1h-2zm4 0h2v1h-2zm5 0h2v1h-2zm6 0h2v1h-2zM326 146h1v1h-1zm4 0h1v1h-1zm3 0h1v1h-1zm4 0h2v1h-2zm8 0h1v1h-1zm2 0h2v1h-2zm4 0h1v1h-1zM326 147h1v1h-1zm10 0h1v1h-1zm5 0h1v1h-1zm2 0h1v1h-1zm4 0h1v1h-1z" fill="#111"/>
<rect x="251.00" y="76.60" width="43.60" height="43.60" fill="none" stroke="#a4a4a4" stroke-width="0.8" />
<text x="292.7" y="84.5" font-size="6.8" text-anchor="end" font-weight="normal" fill="#111" >0.1</text>
<path d="M246.60 80.10l.8 .9l1.5-1.2" fill="none" stroke="#2a2a2a" stroke-width="1.15" stroke-linecap="round" stroke-linejoin="round"/>
<path d="M246.60 89.90l.8 .9l1.5-1.2" fill="none" stroke="#2a2a2a" stroke-width="1.15" stroke-linecap="round" stroke-linejoin="round"/>
<path d="M246.60 99.90l.8 .9l1.5-1.2" fill="none" stroke="#2a2a2a" stroke-width="1.15" stroke-linecap="round" stroke-linejoin="round"/>
<path d="M246.60 110.20l.8 .9l1.5-1.2" fill="none" stroke="#2a2a2a" stroke-width="1.15" stroke-linecap="round" stroke-linejoin="round"/>
<path d="M246.60 114.80l.8 .9l1.5-1.2" fill="none" stroke="#2a2a2a" stroke-width="1.15" stroke-linecap="round" stroke-linejoin="round"/>
<path d="M254.40 122.80l.8 .9l1.5-1.2" fill="none" stroke="#2a2a2a" stroke-width="1.15" stroke-linecap="round" stroke-linejoin="round"/>
<path d="M259.10 122.80l.8 .9l1.5-1.2" fill="none" stroke="#2a2a2a" stroke-width="1.15" stroke-linecap="round" stroke-linejoin="round"/>
<path d="M269.40 122.80l.8 .9l1.5-1.2" fill="none" stroke="#2a2a2a" stroke-width="1.15" stroke-linecap="round" stroke-linejoin="round"/>
<path d="M279.40 122.80l.8 .9l1.5-1.2" fill="none" stroke="#2a2a2a" stroke-width="1.15" stroke-linecap="round" stroke-linejoin="round"/>
<path d="M289.40 122.80l.8 .9l1.5-1.2" fill="none" stroke="#2a2a2a" stroke-width="1.15" stroke-linecap="round" stroke-linejoin="round"/>
<line x1="323.8" y1="23.1" x2="323.8" y2="66.6" stroke="#a8a8a8" stroke-width="0.85" />
<line x1="308.8" y1="47.6" x2="352.6" y2="47.6" stroke="#a8a8a8" stroke-width="0.85" />
<path transform="scale(0.8)" d="M426 46h1v1h-1zm2 0h1v1h-1zM422 47h1v1h-1zm8 0h1v1h-1zM412 48h1v1h-1zm4 0h1v1h-1zm5 0h2v1h-2zm7 0h1v1h-1zM414 49h2v1h-2zm12 0h1v1h-1zm2 0h1v1h-1zM418 50h1v1h-1zm7 0h1v1h-1zm10 0h1v1h-1zM416 51h1v1h-1zm5 0h1v1h-1zM402 52h1v1h-1zM416 53h1v1h-1zm8 0h3v1h-3zm7 0h2v1h-2zM423 54h1v1h-1zm9 0h2v1h-2zM407 55h1v1h-1zm6 0h1v1h-1zm5 0h4v1h-4zM416 56h1v1h-1zm2 0h2v1h-2zm5 0h3v1h-3zM394 57h1v1h-1zm16 0h1v1h-1zm9 0h1v1h-1zm2 0h1v1h-1zm4 0h2v1h-2zM405 58h1v1h-1zm5 0h1v1h-1zm2 0h2v1h-2zm4 0h3v1h-3zm6 0h2v1h-2zm5 0h2v1h-2zM387 59h1v1h-1zm4 0h1v1h-1zm2 0h1v1h-1zm6 0h1v1h-1zm2 0h1v1h-1zm2 0h6v1h-6zm8 0h19v1h-19zm20 0h1v1h-1zM387 60h1v1h-1zm2 0h1v1h-1zm2 0h1v1h-1zm3 0h1v1h-1zm3 0h1v1h-1zm2 0h32v1h-32zM387 61h2v1h-2zm4 0h42v1h-42zM386 62h46v1h-46zM386 63h47v1h-47zM388 64h45v1h-45zM387 65h45v1h-45zM386 66h1v1h-1zm4 0h43v1h-43zM386 67h1v1h-1zm2 0h2v1h-2zm5 0h40v1h-40zM395 68h38v1h-38zM395 69h38v1h-38zM396 70h1v1h-1zm2 0h35v1h-35zM398 71h34v1h-34zM400 72h29v1h-29zm30 0h1v1h-1zM393 73h1v1h-1zm5 0h1v1h-1zm5 0h1v1h-1zm3 0h24v1h-24zM394 74h1v1h-1zm5 0h1v1h-1zm6 0h23v1h-23zM389 75h1v1h-1zm4 0h2v1h-2zm8 0h1v1h-1zm2 0h1v1h-1zm2 0h2v1h-2zm4 0h1v1h-1zm2 0h1v1h-1zm2 0h9v1h-9zm10 0h1v1h-1zm2 0h2v1h-2zm4 0h1v1h-1zM386 76h1v1h-1zm8 0h1v1h-1zm4 0h1v1h-1zm4 0h1v1h-1zm11 0h1v1h-1zm2 0h1v1h-1zm2 0h5v1h-5zm6 0h1v1h-1zM387 77h1v1h-1zm2 0h1v1h-1zm4 0h1v1h-1zm8 0h2v1h-2zm9 0h1v1h-1zm2 0h1v1h-1zm4 0h2v1h-2zm4 0h1v1h-1zm7 0h1v1h-1zM413 78h1v1h-1zM407 79h1v1h-1zm5 0h1v1h-1zM402 80h1v1h-1zM388 81h1v1h-1z" fill="#111"/>
<rect x="308.80" y="23.10" width="43.80" height="43.50" fill="none" stroke="#a4a4a4" stroke-width="0.8" />
<text x="349.5" y="31.4" font-size="6.8" text-anchor="end" font-weight="normal" fill="#111" >0.4</text>
<path d="M304.40 26.40l.8 .9l1.5-1.2" fill="none" stroke="#2a2a2a" stroke-width="1.15" stroke-linecap="round" stroke-linejoin="round"/>
<path d="M304.40 36.20l.8 .9l1.5-1.2" fill="none" stroke="#2a2a2a" stroke-width="1.15" stroke-linecap="round" stroke-linejoin="round"/>
<path d="M304.40 46.20l.8 .9l1.5-1.2" fill="none" stroke="#2a2a2a" stroke-width="1.15" stroke-linecap="round" stroke-linejoin="round"/>
<path d="M304.40 56.50l.8 .9l1.5-1.2" fill="none" stroke="#2a2a2a" stroke-width="1.15" stroke-linecap="round" stroke-linejoin="round"/>
<path d="M304.40 61.10l.8 .9l1.5-1.2" fill="none" stroke="#2a2a2a" stroke-width="1.15" stroke-linecap="round" stroke-linejoin="round"/>
<path d="M312.20 69.20l.8 .9l1.5-1.2" fill="none" stroke="#2a2a2a" stroke-width="1.15" stroke-linecap="round" stroke-linejoin="round"/>
<path d="M316.90 69.20l.8 .9l1.5-1.2" fill="none" stroke="#2a2a2a" stroke-width="1.15" stroke-linecap="round" stroke-linejoin="round"/>
<path d="M327.20 69.20l.8 .9l1.5-1.2" fill="none" stroke="#2a2a2a" stroke-width="1.15" stroke-linecap="round" stroke-linejoin="round"/>
<path d="M337.20 69.20l.8 .9l1.5-1.2" fill="none" stroke="#2a2a2a" stroke-width="1.15" stroke-linecap="round" stroke-linejoin="round"/>
<path d="M347.20 69.20l.8 .9l1.5-1.2" fill="none" stroke="#2a2a2a" stroke-width="1.15" stroke-linecap="round" stroke-linejoin="round"/>
<line x1="323.8" y1="76.6" x2="323.8" y2="120.2" stroke="#a8a8a8" stroke-width="0.85" />
<line x1="308.8" y1="100.8" x2="352.6" y2="100.8" stroke="#a8a8a8" stroke-width="0.85" />
<path transform="scale(0.8)" d="M415 100h1v1h-1zM420 112h1v1h-1zM398 122h1v1h-1zm26 0h1v1h-1zM415 123h1v1h-1zM399 124h1v1h-1zm19 0h1v1h-1zm4 0h1v1h-1zm5 0h1v1h-1zm3 0h1v1h-1zM403 125h1v1h-1zm10 0h1v1h-1zm11 0h1v1h-1zm7 0h1v1h-1zM410 126h2v1h-2zm3 0h7v1h-7zm8 0h1v1h-1zm2 0h1v1h-1zm2 0h1v1h-1zm3 0h3v1h-3zM404 127h28v1h-28zM400 128h32v1h-32zM386 129h1v1h-1zm6 0h1v1h-1zm2 0h1v1h-1zm3 0h37v1h-37zM388 130h1v1h-1zm3 0h1v1h-1zm2 0h40v1h-40zM386 131h47v1h-47zM386 132h47v1h-47zM386 133h46v1h-46zM390 134h44v1h-44zM389 135h43v1h-43zm45 0h1v1h-1zM388 136h1v1h-1zm2 0h1v1h-1zm3 0h40v1h-40zM394 137h39v1h-39zM396 138h37v1h-37zM395 139h2v1h-2zm3 0h35v1h-35zM393 140h2v1h-2zm4 0h34v1h-34zm36 0h1v1h-1zM395 141h1v1h-1zm4 0h1v1h-1zm4 0h26v1h-26zm27 0h2v1h-2zM389 142h1v1h-1zm11 0h1v1h-1zm3 0h26v1h-26zm27 0h1v1h-1zM386 143h1v1h-1zm4 0h1v1h-1zm4 0h1v1h-1zm2 0h2v1h-2zm5 0h3v1h-3zm4 0h23v1h-23zM390 144h1v1h-1zm2 0h1v1h-1zm6 0h1v1h-1zm4 0h2v1h-2zm6 0h19v1h-19zM387 145h1v1h-1zm3 0h1v1h-1zm2 0h1v1h-1zm9 0h1v1h-1zm8 0h4v1h-4zm5 0h8v1h-8zm9 0h1v1h-1zm4 0h2v1h-2zM389 146h1v1h-1zm9 0h1v1h-1zm3 0h1v1h-1zm9 0h1v1h-1zm4 0h4v1h-4zm5 0h1v1h-1zM420 147h2v1h-2zM421 148h1v1h-1z" fill="#111"/>
<rect x="308.80" y="76.60" width="43.80" height="43.60" fill="none" stroke="#a4a4a4" stroke-width="0.8" />
<text x="350.4" y="84.5" font-size="6.8" text-anchor="end" font-weight="normal" fill="#111" >0.1</text>
<path d="M304.40 80.10l.8 .9l1.5-1.2" fill="none" stroke="#2a2a2a" stroke-width="1.15" stroke-linecap="round" stroke-linejoin="round"/>
<path d="M304.40 89.90l.8 .9l1.5-1.2" fill="none" stroke="#2a2a2a" stroke-width="1.15" stroke-linecap="round" stroke-linejoin="round"/>
<path d="M304.40 99.90l.8 .9l1.5-1.2" fill="none" stroke="#2a2a2a" stroke-width="1.15" stroke-linecap="round" stroke-linejoin="round"/>
<path d="M304.40 110.20l.8 .9l1.5-1.2" fill="none" stroke="#2a2a2a" stroke-width="1.15" stroke-linecap="round" stroke-linejoin="round"/>
<path d="M304.40 114.80l.8 .9l1.5-1.2" fill="none" stroke="#2a2a2a" stroke-width="1.15" stroke-linecap="round" stroke-linejoin="round"/>
<path d="M312.20 122.80l.8 .9l1.5-1.2" fill="none" stroke="#2a2a2a" stroke-width="1.15" stroke-linecap="round" stroke-linejoin="round"/>
<path d="M316.90 122.80l.8 .9l1.5-1.2" fill="none" stroke="#2a2a2a" stroke-width="1.15" stroke-linecap="round" stroke-linejoin="round"/>
<path d="M327.20 122.80l.8 .9l1.5-1.2" fill="none" stroke="#2a2a2a" stroke-width="1.15" stroke-linecap="round" stroke-linejoin="round"/>
<path d="M337.20 122.80l.8 .9l1.5-1.2" fill="none" stroke="#2a2a2a" stroke-width="1.15" stroke-linecap="round" stroke-linejoin="round"/>
<path d="M347.20 122.80l.8 .9l1.5-1.2" fill="none" stroke="#2a2a2a" stroke-width="1.15" stroke-linecap="round" stroke-linejoin="round"/>
<line x1="378.0" y1="23.1" x2="378.0" y2="66.6" stroke="#a8a8a8" stroke-width="0.85" />
<line x1="364.5" y1="48.8" x2="407.2" y2="48.8" stroke="#a8a8a8" stroke-width="0.85" />
<path transform="scale(0.8)" d="M486 35h1v1h-1zM491 38h1v1h-1zM465 40h1v1h-1zM494 42h1v1h-1zM483 44h1v1h-1zm10 0h1v1h-1zM479 45h1v1h-1zm2 0h1v1h-1zM475 47h1v1h-1zm7 0h1v1h-1zm13 0h1v1h-1zM485 48h1v1h-1zm3 0h1v1h-1zM478 49h1v1h-1zm5 0h1v1h-1zm2 0h1v1h-1zM481 50h1v1h-1zM484 51h1v1h-1zm9 0h1v1h-1zm6 0h1v1h-1zM489 52h1v1h-1zM489 53h1v1h-1zM477 55h1v1h-1zm16 0h1v1h-1zM468 56h1v1h-1zm5 0h1v1h-1zm9 0h1v1h-1zm11 0h1v1h-1zM464 57h1v1h-1zm8 0h1v1h-1zm8 0h1v1h-1zm2 0h2v1h-2zm11 0h1v1h-1zM468 58h1v1h-1zm5 0h1v1h-1zm4 0h1v1h-1zm6 0h1v1h-1zm5 0h2v1h-2zm4 0h1v1h-1zM456 59h1v1h-1zm2 0h1v1h-1zm2 0h2v1h-2zm3 0h2v1h-2zm4 0h1v1h-1zm3 0h1v1h-1zm2 0h3v1h-3zm4 0h1v1h-1zm2 0h4v1h-4zm5 0h5v1h-5zm7 0h4v1h-4zm5 0h1v1h-1zm2 0h3v1h-3zM456 60h46v1h-46zm51 0h1v1h-1zM456 61h47v1h-47zM456 62h47v1h-47zm48 0h3v1h-3zM457 63h46v1h-46zM456 64h47v1h-47zM457 65h46v1h-46zm48 0h1v1h-1zM458 66h46v1h-46zM457 67h46v1h-46zM457 68h44v1h-44zm45 0h1v1h-1zM456 69h45v1h-45zM457 70h43v1h-43zM456 71h44v1h-44zM458 72h41v1h-41zm42 0h3v1h-3zM457 73h40v1h-40zm41 0h1v1h-1zM457 74h41v1h-41zM456 75h3v1h-3zm4 0h37v1h-37zM462 76h34v1h-34zm36 0h1v1h-1zM464 77h1v1h-1zm3 0h26v1h-26zm28 0h2v1h-2zM466 78h5v1h-5zm6 0h2v1h-2zm3 0h1v1h-1zm3 0h2v1h-2zm4 0h1v1h-1zm2 0h2v1h-2zm3 0h2v1h-2zm3 0h1v1h-1zm2 0h1v1h-1zm3 0h1v1h-1zM467 79h1v1h-1zm2 0h1v1h-1zm2 0h1v1h-1zm7 0h1v1h-1zm4 0h1v1h-1zm6 0h1v1h-1zm3 0h1v1h-1zM475 80h1v1h-1zm2 0h1v1h-1zm6 0h1v1h-1zm2 0h1v1h-1zM474 81h2v1h-2zm3 0h1v1h-1z" fill="#111"/>
<rect x="364.50" y="23.10" width="42.70" height="43.50" fill="none" stroke="#a4a4a4" stroke-width="0.8" />
<text x="406.2" y="30.8" font-size="6.8" text-anchor="end" font-weight="normal" fill="#111" >0.1</text>
<path d="M360.10 26.40l.8 .9l1.5-1.2" fill="none" stroke="#2a2a2a" stroke-width="1.15" stroke-linecap="round" stroke-linejoin="round"/>
<path d="M360.10 36.20l.8 .9l1.5-1.2" fill="none" stroke="#2a2a2a" stroke-width="1.15" stroke-linecap="round" stroke-linejoin="round"/>
<path d="M360.10 46.20l.8 .9l1.5-1.2" fill="none" stroke="#2a2a2a" stroke-width="1.15" stroke-linecap="round" stroke-linejoin="round"/>
<path d="M360.10 56.50l.8 .9l1.5-1.2" fill="none" stroke="#2a2a2a" stroke-width="1.15" stroke-linecap="round" stroke-linejoin="round"/>
<path d="M360.10 61.10l.8 .9l1.5-1.2" fill="none" stroke="#2a2a2a" stroke-width="1.15" stroke-linecap="round" stroke-linejoin="round"/>
<path d="M367.90 69.20l.8 .9l1.5-1.2" fill="none" stroke="#2a2a2a" stroke-width="1.15" stroke-linecap="round" stroke-linejoin="round"/>
<path d="M372.60 69.20l.8 .9l1.5-1.2" fill="none" stroke="#2a2a2a" stroke-width="1.15" stroke-linecap="round" stroke-linejoin="round"/>
<path d="M382.90 69.20l.8 .9l1.5-1.2" fill="none" stroke="#2a2a2a" stroke-width="1.15" stroke-linecap="round" stroke-linejoin="round"/>
<path d="M392.90 69.20l.8 .9l1.5-1.2" fill="none" stroke="#2a2a2a" stroke-width="1.15" stroke-linecap="round" stroke-linejoin="round"/>
<path d="M402.90 69.20l.8 .9l1.5-1.2" fill="none" stroke="#2a2a2a" stroke-width="1.15" stroke-linecap="round" stroke-linejoin="round"/>
<line x1="378.0" y1="76.6" x2="378.0" y2="120.2" stroke="#a8a8a8" stroke-width="0.85" />
<line x1="364.5" y1="100.8" x2="407.2" y2="100.8" stroke="#a8a8a8" stroke-width="0.85" />
<path transform="scale(0.8)" d="M501 112h1v1h-1zM500 117h1v1h-1zM474 123h1v1h-1zM481 124h1v1h-1zm4 0h1v1h-1zm5 0h1v1h-1zM467 125h1v1h-1zm16 0h1v1h-1zM468 126h1v1h-1zm6 0h1v1h-1zm2 0h1v1h-1zm3 0h2v1h-2zm6 0h1v1h-1zm3 0h1v1h-1zm2 0h2v1h-2zm3 0h1v1h-1zM463 127h1v1h-1zm2 0h1v1h-1zm2 0h1v1h-1zm2 0h1v1h-1zm2 0h2v1h-2zm4 0h8v1h-8zm10 0h1v1h-1zm3 0h9v1h-9zm11 0h1v1h-1zm4 0h1v1h-1zM456 128h1v1h-1zm2 0h1v1h-1zm2 0h3v1h-3zm5 0h36v1h-36zm37 0h1v1h-1zm3 0h1v1h-1zM456 129h47v1h-47zM456 130h47v1h-47zM456 131h48v1h-48zM456 132h46v1h-46zM456 133h47v1h-47zM456 134h47v1h-47zM456 135h47v1h-47zM456 136h47v1h-47zM457 137h44v1h-44zm45 0h2v1h-2zM457 138h44v1h-44zM456 139h45v1h-45zM457 140h43v1h-43zm44 0h1v1h-1zM457 141h41v1h-41zM457 142h41v1h-41zM456 143h41v1h-41zM457 144h41v1h-41zM459 145h1v1h-1zm2 0h1v1h-1zm2 0h32v1h-32zm37 0h1v1h-1zM462 146h2v1h-2zm4 0h25v1h-25zm26 0h1v1h-1zm2 0h1v1h-1zm2 0h1v1h-1zM469 147h5v1h-5zm10 0h1v1h-1zm3 0h1v1h-1zm3 0h1v1h-1zm3 0h2v1h-2zm6 0h1v1h-1zM476 148h1v1h-1zm9 0h1v1h-1zm3 0h1v1h-1z" fill="#111"/>
<rect x="364.50" y="76.60" width="42.70" height="43.60" fill="none" stroke="#a4a4a4" stroke-width="0.8" />
<text x="406.5" y="84.5" font-size="6.8" text-anchor="end" font-weight="normal" fill="#111" >0.03</text>
<path d="M360.10 80.10l.8 .9l1.5-1.2" fill="none" stroke="#2a2a2a" stroke-width="1.15" stroke-linecap="round" stroke-linejoin="round"/>
<path d="M360.10 89.90l.8 .9l1.5-1.2" fill="none" stroke="#2a2a2a" stroke-width="1.15" stroke-linecap="round" stroke-linejoin="round"/>
<path d="M360.10 99.90l.8 .9l1.5-1.2" fill="none" stroke="#2a2a2a" stroke-width="1.15" stroke-linecap="round" stroke-linejoin="round"/>
<path d="M360.10 110.20l.8 .9l1.5-1.2" fill="none" stroke="#2a2a2a" stroke-width="1.15" stroke-linecap="round" stroke-linejoin="round"/>
<path d="M360.10 114.80l.8 .9l1.5-1.2" fill="none" stroke="#2a2a2a" stroke-width="1.15" stroke-linecap="round" stroke-linejoin="round"/>
<path d="M367.90 122.80l.8 .9l1.5-1.2" fill="none" stroke="#2a2a2a" stroke-width="1.15" stroke-linecap="round" stroke-linejoin="round"/>
<path d="M372.60 122.80l.8 .9l1.5-1.2" fill="none" stroke="#2a2a2a" stroke-width="1.15" stroke-linecap="round" stroke-linejoin="round"/>
<path d="M382.90 122.80l.8 .9l1.5-1.2" fill="none" stroke="#2a2a2a" stroke-width="1.15" stroke-linecap="round" stroke-linejoin="round"/>
<path d="M392.90 122.80l.8 .9l1.5-1.2" fill="none" stroke="#2a2a2a" stroke-width="1.15" stroke-linecap="round" stroke-linejoin="round"/>
<path d="M402.90 122.80l.8 .9l1.5-1.2" fill="none" stroke="#2a2a2a" stroke-width="1.15" stroke-linecap="round" stroke-linejoin="round"/>
<line x1="433.8" y1="23.1" x2="433.8" y2="66.6" stroke="#a8a8a8" stroke-width="0.85" />
<line x1="420.0" y1="48.0" x2="463.4" y2="48.0" stroke="#a8a8a8" stroke-width="0.85" />
<path transform="scale(0.8)" d="M528 29h1v1h-1zM552 30h1v1h-1zM531 31h1v1h-1zM555 39h1v1h-1zm9 0h1v1h-1zM526 40h1v1h-1zM553 41h1v1h-1zM561 42h1v1h-1zm9 0h1v1h-1zM559 44h1v1h-1zm4 0h1v1h-1zM557 45h1v1h-1zm3 0h1v1h-1zm4 0h1v1h-1zM555 46h1v1h-1zm9 0h1v1h-1zM557 47h1v1h-1zm7 0h1v1h-1zm4 0h1v1h-1zm8 0h1v1h-1zM557 48h1v1h-1zm2 0h1v1h-1zm3 0h1v1h-1zm2 0h1v1h-1zm5 0h1v1h-1zM562 49h1v1h-1zm3 0h1v1h-1zM560 50h5v1h-5zm7 0h2v1h-2zM560 51h2v1h-2zM560 52h3v1h-3zm5 0h2v1h-2zM557 53h1v1h-1zm4 0h1v1h-1zm4 0h1v1h-1zM561 54h1v1h-1zm2 0h2v1h-2zm3 0h2v1h-2zM543 55h1v1h-1zm15 0h1v1h-1zm4 0h1v1h-1zm3 0h1v1h-1zm2 0h1v1h-1zM553 56h1v1h-1zm3 0h2v1h-2zm6 0h1v1h-1zm2 0h1v1h-1zm2 0h1v1h-1zM543 57h1v1h-1zm11 0h1v1h-1zm4 0h1v1h-1zm4 0h1v1h-1zm3 0h1v1h-1zm2 0h1v1h-1zM548 58h1v1h-1zm3 0h1v1h-1zm2 0h1v1h-1zm4 0h1v1h-1zM534 59h1v1h-1zm8 0h1v1h-1zm4 0h1v1h-1zm2 0h1v1h-1zm6 0h1v1h-1zm3 0h2v1h-2zm3 0h1v1h-1zm4 0h1v1h-1zm2 0h1v1h-1zm3 0h2v1h-2zM534 60h1v1h-1zm7 0h1v1h-1zm2 0h4v1h-4zm6 0h1v1h-1zm2 0h18v1h-18zm24 0h1v1h-1zM533 61h2v1h-2zm4 0h37v1h-37zM525 62h1v1h-1zm4 0h1v1h-1zm3 0h2v1h-2zm3 0h38v1h-38zm39 0h1v1h-1zM527 63h1v1h-1zm2 0h44v1h-44zm46 0h1v1h-1zM526 64h46v1h-46zM526 65h47v1h-47zM526 66h1v1h-1zm2 0h45v1h-45zm49 0h1v1h-1zM527 67h4v1h-4zm5 0h41v1h-41zM526 68h2v1h-2zm3 0h1v1h-1zm2 0h41v1h-41zm42 0h1v1h-1zM531 69h42v1h-42zM532 70h1v1h-1zm2 0h38v1h-38zM539 71h32v1h-32zM537 72h1v1h-1zm2 0h1v1h-1zm2 0h30v1h-30zM533 73h2v1h-2zm6 0h2v1h-2zm4 0h25v1h-25zM525 74h1v1h-1zm5 0h2v1h-2zm3 0h1v1h-1zm4 0h5v1h-5zm8 0h1v1h-1zm2 0h19v1h-19zM533 75h1v1h-1zm4 0h1v1h-1zm5 0h1v1h-1zm3 0h2v1h-2zm3 0h2v1h-2zm4 0h12v1h-12zm14 0h1v1h-1zM530 76h1v1h-1zm17 0h1v1h-1zm3 0h1v1h-1zm4 0h1v1h-1zm4 0h2v1h-2zm3 0h3v1h-3zm4 0h2v1h-2zM531 77h1v1h-1zm2 0h1v1h-1zm3 0h2v1h-2zm3 0h1v1h-1zm12 0h1v1h-1zm8 0h2v1h-2zm4 0h1v1h-1zm3 0h1v1h-1zM535 78h1v1h-1zm21 0h1v1h-1zm10 0h1v1h-1zM531 79h1v1h-1zm7 0h1v1h-1zm11 0h2v1h-2zm3 0h1v1h-1zm2 0h1v1h-1zm3 0h1v1h-1zm2 0h1v1h-1zM553 80h1v1h-1zm11 0h1v1h-1zM534 81h1v1h-1z" fill="#111"/>
<rect x="420.00" y="23.10" width="43.40" height="43.50" fill="none" stroke="#a4a4a4" stroke-width="0.8" />
<text x="461.3" y="30.8" font-size="6.8" text-anchor="end" font-weight="normal" fill="#111" >0.5</text>
<path d="M415.60 26.40l.8 .9l1.5-1.2" fill="none" stroke="#2a2a2a" stroke-width="1.15" stroke-linecap="round" stroke-linejoin="round"/>
<path d="M415.60 36.20l.8 .9l1.5-1.2" fill="none" stroke="#2a2a2a" stroke-width="1.15" stroke-linecap="round" stroke-linejoin="round"/>
<path d="M415.60 46.20l.8 .9l1.5-1.2" fill="none" stroke="#2a2a2a" stroke-width="1.15" stroke-linecap="round" stroke-linejoin="round"/>
<path d="M415.60 56.50l.8 .9l1.5-1.2" fill="none" stroke="#2a2a2a" stroke-width="1.15" stroke-linecap="round" stroke-linejoin="round"/>
<path d="M415.60 61.10l.8 .9l1.5-1.2" fill="none" stroke="#2a2a2a" stroke-width="1.15" stroke-linecap="round" stroke-linejoin="round"/>
<path d="M423.40 69.20l.8 .9l1.5-1.2" fill="none" stroke="#2a2a2a" stroke-width="1.15" stroke-linecap="round" stroke-linejoin="round"/>
<path d="M428.10 69.20l.8 .9l1.5-1.2" fill="none" stroke="#2a2a2a" stroke-width="1.15" stroke-linecap="round" stroke-linejoin="round"/>
<path d="M438.40 69.20l.8 .9l1.5-1.2" fill="none" stroke="#2a2a2a" stroke-width="1.15" stroke-linecap="round" stroke-linejoin="round"/>
<path d="M448.40 69.20l.8 .9l1.5-1.2" fill="none" stroke="#2a2a2a" stroke-width="1.15" stroke-linecap="round" stroke-linejoin="round"/>
<path d="M458.40 69.20l.8 .9l1.5-1.2" fill="none" stroke="#2a2a2a" stroke-width="1.15" stroke-linecap="round" stroke-linejoin="round"/>
<line x1="433.8" y1="76.6" x2="433.8" y2="120.2" stroke="#a8a8a8" stroke-width="0.85" />
<line x1="420.0" y1="102.0" x2="463.4" y2="102.0" stroke="#a8a8a8" stroke-width="0.85" />
<path transform="scale(0.8)" d="M528 120h1v1h-1zM565 122h1v1h-1zm4 0h1v1h-1zM538 123h1v1h-1zm24 0h1v1h-1zM544 125h1v1h-1zm22 0h1v1h-1zM539 126h2v1h-2zm7 0h2v1h-2zm5 0h1v1h-1zm4 0h1v1h-1zm4 0h2v1h-2zm4 0h1v1h-1zm5 0h1v1h-1zM535 127h1v1h-1zm5 0h1v1h-1zm6 0h2v1h-2zm4 0h5v1h-5zm6 0h15v1h-15zM535 128h1v1h-1zm3 0h34v1h-34zm35 0h1v1h-1zM532 129h1v1h-1zm2 0h1v1h-1zm2 0h37v1h-37zM530 130h2v1h-2zm3 0h40v1h-40zM526 131h46v1h-46zM525 132h1v1h-1zm2 0h47v1h-47zm49 0h1v1h-1zM526 133h47v1h-47zM526 134h2v1h-2zm3 0h44v1h-44zM526 135h47v1h-47zM526 136h1v1h-1zm2 0h1v1h-1zm2 0h43v1h-43zM526 137h48v1h-48zM526 138h1v1h-1zm3 0h1v1h-1zm4 0h40v1h-40zM533 139h39v1h-39zm41 0h1v1h-1zM534 140h1v1h-1zm2 0h34v1h-34zM536 141h1v1h-1zm2 0h32v1h-32zM532 142h1v1h-1zm3 0h1v1h-1zm5 0h27v1h-27zm28 0h2v1h-2zM539 143h1v1h-1zm2 0h1v1h-1zm3 0h19v1h-19zm20 0h3v1h-3zm4 0h1v1h-1zM527 144h2v1h-2zm5 0h1v1h-1zm5 0h1v1h-1zm6 0h1v1h-1zm3 0h9v1h-9zm10 0h4v1h-4zm6 0h2v1h-2zm3 0h1v1h-1zm5 0h1v1h-1zm5 0h1v1h-1zM526 145h2v1h-2zm13 0h1v1h-1zm10 0h6v1h-6zm10 0h2v1h-2zm4 0h1v1h-1zM550 146h1v1h-1zm4 0h1v1h-1zm5 0h1v1h-1zM526 147h1v1h-1zm8 0h1v1h-1zM535 148h1v1h-1zm7 0h1v1h-1z" fill="#111"/>
<rect x="420.00" y="76.60" width="43.40" height="43.60" fill="none" stroke="#a4a4a4" stroke-width="0.8" />
<text x="462.0" y="84.2" font-size="6.8" text-anchor="end" font-weight="normal" fill="#111" >0.1</text>
<path d="M415.60 80.10l.8 .9l1.5-1.2" fill="none" stroke="#2a2a2a" stroke-width="1.15" stroke-linecap="round" stroke-linejoin="round"/>
<path d="M415.60 89.90l.8 .9l1.5-1.2" fill="none" stroke="#2a2a2a" stroke-width="1.15" stroke-linecap="round" stroke-linejoin="round"/>
<path d="M415.60 99.90l.8 .9l1.5-1.2" fill="none" stroke="#2a2a2a" stroke-width="1.15" stroke-linecap="round" stroke-linejoin="round"/>
<path d="M415.60 110.20l.8 .9l1.5-1.2" fill="none" stroke="#2a2a2a" stroke-width="1.15" stroke-linecap="round" stroke-linejoin="round"/>
<path d="M415.60 114.80l.8 .9l1.5-1.2" fill="none" stroke="#2a2a2a" stroke-width="1.15" stroke-linecap="round" stroke-linejoin="round"/>
<path d="M423.40 122.80l.8 .9l1.5-1.2" fill="none" stroke="#2a2a2a" stroke-width="1.15" stroke-linecap="round" stroke-linejoin="round"/>
<path d="M428.10 122.80l.8 .9l1.5-1.2" fill="none" stroke="#2a2a2a" stroke-width="1.15" stroke-linecap="round" stroke-linejoin="round"/>
<path d="M438.40 122.80l.8 .9l1.5-1.2" fill="none" stroke="#2a2a2a" stroke-width="1.15" stroke-linecap="round" stroke-linejoin="round"/>
<path d="M448.40 122.80l.8 .9l1.5-1.2" fill="none" stroke="#2a2a2a" stroke-width="1.15" stroke-linecap="round" stroke-linejoin="round"/>
<path d="M458.40 122.80l.8 .9l1.5-1.2" fill="none" stroke="#2a2a2a" stroke-width="1.15" stroke-linecap="round" stroke-linejoin="round"/>
<line x1="488.8" y1="23.1" x2="488.8" y2="66.6" stroke="#a8a8a8" stroke-width="0.85" />
<line x1="475.5" y1="48.0" x2="518.8" y2="48.0" stroke="#a8a8a8" stroke-width="0.85" />
<path transform="scale(0.8)" d="M639 39h1v1h-1zM633 44h1v1h-1zM608 45h1v1h-1zm11 0h1v1h-1zM629 46h1v1h-1zm8 0h1v1h-1zM612 47h1v1h-1zm3 0h1v1h-1zm6 0h1v1h-1zM607 49h1v1h-1zm32 0h1v1h-1zM622 50h1v1h-1zm9 0h1v1h-1zM624 52h1v1h-1zM623 53h1v1h-1zm4 0h1v1h-1zM618 54h1v1h-1zm2 0h1v1h-1zm6 0h1v1h-1zM632 56h1v1h-1zM616 57h1v1h-1zm5 0h1v1h-1zm8 0h1v1h-1zm4 0h1v1h-1zM613 58h1v1h-1zm2 0h2v1h-2zm5 0h1v1h-1zm2 0h1v1h-1zm5 0h3v1h-3zM608 59h1v1h-1zm2 0h3v1h-3zm4 0h1v1h-1zm2 0h1v1h-1zm2 0h1v1h-1zm3 0h2v1h-2zm3 0h1v1h-1zm2 0h3v1h-3zm5 0h3v1h-3zm5 0h2v1h-2zm4 0h1v1h-1zM607 60h3v1h-3zm4 0h1v1h-1zm2 0h26v1h-26zm29 0h1v1h-1zM604 61h2v1h-2zm3 0h35v1h-35zM602 62h40v1h-40zM596 63h1v1h-1zm2 0h1v1h-1zm2 0h42v1h-42zm44 0h1v1h-1zM596 64h47v1h-47zM596 65h46v1h-46zM597 66h1v1h-1zm2 0h45v1h-45zM596 67h2v1h-2zm3 0h2v1h-2zm3 0h39v1h-39zM595 68h1v1h-1zm2 0h45v1h-45zM597 69h45v1h-45zm46 0h1v1h-1zM601 70h1v1h-1zm2 0h38v1h-38zM604 71h36v1h-36zM604 72h1v1h-1zm4 0h33v1h-33zm35 0h1v1h-1zM604 73h1v1h-1zm3 0h1v1h-1zm4 0h26v1h-26zM607 74h1v1h-1zm2 0h2v1h-2zm3 0h24v1h-24zm27 0h1v1h-1zM599 75h1v1h-1zm2 0h2v1h-2zm5 0h1v1h-1zm3 0h3v1h-3zm5 0h21v1h-21zm22 0h2v1h-2zM599 76h1v1h-1zm2 0h4v1h-4zm6 0h3v1h-3zm4 0h1v1h-1zm2 0h2v1h-2zm4 0h1v1h-1zm2 0h9v1h-9zm11 0h3v1h-3zm6 0h1v1h-1zM603 77h1v1h-1zm4 0h2v1h-2zm6 0h1v1h-1zm2 0h1v1h-1zm2 0h1v1h-1zm4 0h1v1h-1zm2 0h3v1h-3zM600 78h1v1h-1zm5 0h1v1h-1zm5 0h1v1h-1zm3 0h1v1h-1zm6 0h1v1h-1zm4 0h2v1h-2zm4 0h1v1h-1zm3 0h1v1h-1zM609 79h1v1h-1zm11 0h1v1h-1zm3 0h1v1h-1zm5 0h1v1h-1zM604 80h1v1h-1zm2 0h1v1h-1zm5 0h1v1h-1zM598 81h1v1h-1zm20 0h1v1h-1zm3 0h1v1h-1zm14 0h1v1h-1z" fill="#111"/>
<rect x="475.50" y="23.10" width="43.30" height="43.50" fill="none" stroke="#a4a4a4" stroke-width="0.8" />
<text x="515.2" y="30.8" font-size="6.8" text-anchor="end" font-weight="normal" fill="#111" >0.4</text>
<path d="M471.10 26.40l.8 .9l1.5-1.2" fill="none" stroke="#2a2a2a" stroke-width="1.15" stroke-linecap="round" stroke-linejoin="round"/>
<path d="M471.10 36.20l.8 .9l1.5-1.2" fill="none" stroke="#2a2a2a" stroke-width="1.15" stroke-linecap="round" stroke-linejoin="round"/>
<path d="M471.10 46.20l.8 .9l1.5-1.2" fill="none" stroke="#2a2a2a" stroke-width="1.15" stroke-linecap="round" stroke-linejoin="round"/>
<path d="M471.10 56.50l.8 .9l1.5-1.2" fill="none" stroke="#2a2a2a" stroke-width="1.15" stroke-linecap="round" stroke-linejoin="round"/>
<path d="M471.10 61.10l.8 .9l1.5-1.2" fill="none" stroke="#2a2a2a" stroke-width="1.15" stroke-linecap="round" stroke-linejoin="round"/>
<path d="M478.90 69.20l.8 .9l1.5-1.2" fill="none" stroke="#2a2a2a" stroke-width="1.15" stroke-linecap="round" stroke-linejoin="round"/>
<path d="M483.60 69.20l.8 .9l1.5-1.2" fill="none" stroke="#2a2a2a" stroke-width="1.15" stroke-linecap="round" stroke-linejoin="round"/>
<path d="M493.90 69.20l.8 .9l1.5-1.2" fill="none" stroke="#2a2a2a" stroke-width="1.15" stroke-linecap="round" stroke-linejoin="round"/>
<path d="M503.90 69.20l.8 .9l1.5-1.2" fill="none" stroke="#2a2a2a" stroke-width="1.15" stroke-linecap="round" stroke-linejoin="round"/>
<path d="M513.90 69.20l.8 .9l1.5-1.2" fill="none" stroke="#2a2a2a" stroke-width="1.15" stroke-linecap="round" stroke-linejoin="round"/>
<line x1="488.8" y1="76.6" x2="488.8" y2="120.2" stroke="#a8a8a8" stroke-width="0.85" />
<line x1="475.5" y1="101.3" x2="518.8" y2="101.3" stroke="#a8a8a8" stroke-width="0.85" />
<path transform="scale(0.8)" d="M608 108h1v1h-1zM614 117h1v1h-1zM633 122h1v1h-1zM613 123h1v1h-1zm12 0h1v1h-1zM615 124h1v1h-1zm2 0h1v1h-1zM610 125h1v1h-1zm2 0h2v1h-2zm3 0h1v1h-1zm3 0h1v1h-1zm2 0h1v1h-1zm3 0h1v1h-1zm5 0h1v1h-1zm3 0h1v1h-1zm2 0h1v1h-1zm2 0h3v1h-3zm5 0h1v1h-1zM600 126h1v1h-1zm5 0h1v1h-1zm3 0h2v1h-2zm3 0h2v1h-2zm4 0h4v1h-4zm5 0h2v1h-2zm3 0h7v1h-7zm8 0h7v1h-7zM597 127h1v1h-1zm6 0h4v1h-4zm6 0h32v1h-32zM596 128h4v1h-4zm8 0h1v1h-1zm2 0h37v1h-37zM595 129h48v1h-48zM595 130h48v1h-48zM595 131h46v1h-46zM595 132h49v1h-49zM595 133h47v1h-47zM596 134h2v1h-2zm3 0h44v1h-44zM599 135h46v1h-46zM596 136h1v1h-1zm2 0h1v1h-1zm2 0h42v1h-42zm46 0h1v1h-1zM595 137h47v1h-47zm48 0h1v1h-1zM595 138h5v1h-5zm6 0h42v1h-42zM596 139h1v1h-1zm2 0h1v1h-1zm3 0h1v1h-1zm2 0h1v1h-1zm2 0h35v1h-35zM595 140h1v1h-1zm8 0h3v1h-3zm4 0h33v1h-33zm35 0h1v1h-1zM603 141h1v1h-1zm2 0h4v1h-4zm5 0h29v1h-29zm30 0h1v1h-1zM601 142h1v1h-1zm3 0h1v1h-1zm3 0h2v1h-2zm3 0h25v1h-25zm26 0h1v1h-1zm5 0h1v1h-1zM602 143h1v1h-1zm5 0h1v1h-1zm2 0h1v1h-1zm3 0h2v1h-2zm3 0h20v1h-20zm23 0h2v1h-2zM605 144h1v1h-1zm2 0h1v1h-1zm2 0h1v1h-1zm2 0h1v1h-1zm3 0h1v1h-1zm3 0h16v1h-16zm18 0h1v1h-1zM602 145h1v1h-1zm2 0h1v1h-1zm2 0h1v1h-1zm6 0h1v1h-1zm5 0h2v1h-2zm3 0h6v1h-6zM595 146h1v1h-1zm9 0h1v1h-1zm2 0h1v1h-1zm4 0h1v1h-1zm6 0h2v1h-2zm3 0h1v1h-1zm7 0h1v1h-1zm5 0h1v1h-1zM605 147h1v1h-1zm2 0h1v1h-1zm2 0h1v1h-1zm10 0h1v1h-1zm7 0h1v1h-1zM601 148h1v1h-1zm9 0h1v1h-1zm3 0h1v1h-1z" fill="#111"/>
<rect x="475.50" y="76.60" width="43.30" height="43.60" fill="none" stroke="#a4a4a4" stroke-width="0.8" />
<text x="515.8" y="85.0" font-size="6.8" text-anchor="end" font-weight="normal" fill="#111" >0.1</text>
<path d="M471.10 80.10l.8 .9l1.5-1.2" fill="none" stroke="#2a2a2a" stroke-width="1.15" stroke-linecap="round" stroke-linejoin="round"/>
<path d="M471.10 89.90l.8 .9l1.5-1.2" fill="none" stroke="#2a2a2a" stroke-width="1.15" stroke-linecap="round" stroke-linejoin="round"/>
<path d="M471.10 99.90l.8 .9l1.5-1.2" fill="none" stroke="#2a2a2a" stroke-width="1.15" stroke-linecap="round" stroke-linejoin="round"/>
<path d="M471.10 110.20l.8 .9l1.5-1.2" fill="none" stroke="#2a2a2a" stroke-width="1.15" stroke-linecap="round" stroke-linejoin="round"/>
<path d="M471.10 114.80l.8 .9l1.5-1.2" fill="none" stroke="#2a2a2a" stroke-width="1.15" stroke-linecap="round" stroke-linejoin="round"/>
<path d="M478.90 122.80l.8 .9l1.5-1.2" fill="none" stroke="#2a2a2a" stroke-width="1.15" stroke-linecap="round" stroke-linejoin="round"/>
<path d="M483.60 122.80l.8 .9l1.5-1.2" fill="none" stroke="#2a2a2a" stroke-width="1.15" stroke-linecap="round" stroke-linejoin="round"/>
<path d="M493.90 122.80l.8 .9l1.5-1.2" fill="none" stroke="#2a2a2a" stroke-width="1.15" stroke-linecap="round" stroke-linejoin="round"/>
<path d="M503.90 122.80l.8 .9l1.5-1.2" fill="none" stroke="#2a2a2a" stroke-width="1.15" stroke-linecap="round" stroke-linejoin="round"/>
<path d="M513.90 122.80l.8 .9l1.5-1.2" fill="none" stroke="#2a2a2a" stroke-width="1.15" stroke-linecap="round" stroke-linejoin="round"/>
<text x="1.1" y="164.3" font-size="11" text-anchor="start" font-weight="bold" fill="#000" >C</text>
<text x="74" y="191.7" font-size="5.1" text-anchor="middle" font-weight="bold" fill="#111" >Day 80</text>
<text x="174" y="191.5" font-size="5.1" text-anchor="middle" font-weight="bold" fill="#111" >Day 180</text>
<text x="277" y="191.8" font-size="5.1" text-anchor="middle" font-weight="bold" fill="#111" >Day 365</text>
<text x="2.3" y="221.3" font-size="5.1" text-anchor="start" font-weight="normal" fill="#111" >Pt 1</text>
<text x="2.6" y="277.3" font-size="5.1" text-anchor="start" font-weight="normal" fill="#111" >Pt 2</text>
<text x="20.2" y="219.2" font-size="3.8" text-anchor="middle" fill="#111" font-weight="bold" transform="rotate(-90 20.2 219.2)">OD</text>
<text x="120.2" y="218.6" font-size="3.8" text-anchor="middle" fill="#111" font-weight="bold" transform="rotate(-90 120.2 218.6)">OD</text>
<text x="223.6" y="218.6" font-size="3.8" text-anchor="middle" fill="#111" font-weight="bold" transform="rotate(-90 223.6 218.6)">OD</text>
<text x="18.9" y="277.2" font-size="3.8" text-anchor="middle" fill="#111" font-weight="bold" transform="rotate(-90 18.9 277.2)">OD</text>
<text x="124.4" y="281.2" font-size="3.8" text-anchor="middle" fill="#111" font-weight="bold" transform="rotate(-90 124.4 281.2)">OD</text>
<text x="224.6" y="277.8" font-size="3.8" text-anchor="middle" fill="#111" font-weight="bold" transform="rotate(-90 224.6 277.8)">OD</text>
<line x1="29.0" y1="199.2" x2="29.0" y2="236.3" stroke="#aaa" stroke-width="0.5" />
<line x1="29.0" y1="236.3" x2="111.3" y2="236.3" stroke="#888" stroke-width="0.5" />
<text x="27.0" y="237.4" font-size="3.0" text-anchor="end" font-weight="bold" fill="#222" >0</text>
<text x="27.0" y="232.24285714285713" font-size="3.0" text-anchor="end" font-weight="bold" fill="#222" >0.1</text>
<text x="27.0" y="227.0857142857143" font-size="3.0" text-anchor="end" font-weight="bold" fill="#222" >0.2</text>
<text x="27.0" y="221.92857142857142" font-size="3.0" text-anchor="end" font-weight="bold" fill="#222" >0.3</text>
<text x="27.0" y="216.77142857142857" font-size="3.0" text-anchor="end" font-weight="bold" fill="#222" >0.4</text>
<text x="27.0" y="211.6142857142857" font-size="3.0" text-anchor="end" font-weight="bold" fill="#222" >0.5</text>
<text x="27.0" y="206.45714285714283" font-size="3.0" text-anchor="end" font-weight="bold" fill="#222" >0.6</text>
<text x="27.0" y="201.29999999999998" font-size="3.0" text-anchor="end" font-weight="bold" fill="#222" >0.7</text>
<rect x="33.50" y="233.30" width="2.10" height="3.00" fill="#fff" stroke="#555" stroke-width="0.45" />
<rect x="35.60" y="233.30" width="2.90" height="3.00" fill="#000" stroke="none" stroke-width="0.6" />
<rect x="42.20" y="232.60" width="2.20" height="3.70" fill="#fff" stroke="#555" stroke-width="0.45" />
<rect x="44.40" y="202.80" width="2.90" height="33.50" fill="#000" stroke="none" stroke-width="0.6" />
<rect x="51.00" y="232.60" width="2.20" height="3.70" fill="#fff" stroke="#555" stroke-width="0.45" />
<rect x="53.40" y="202.50" width="2.90" height="33.80" fill="#000" stroke="none" stroke-width="0.6" />
<rect x="59.40" y="232.60" width="2.50" height="3.70" fill="#fff" stroke="#555" stroke-width="0.45" />
<rect x="62.20" y="209.80" width="2.80" height="26.50" fill="#000" stroke="none" stroke-width="0.6" />
<rect x="68.30" y="225.20" width="3.40" height="11.10" fill="url(#hatch)" stroke="#555" stroke-width="0.5" />
<rect x="77.40" y="226.20" width="3.00" height="10.10" fill="url(#hatch)" stroke="#555" stroke-width="0.5" />
<rect x="86.20" y="229.00" width="2.60" height="7.30" fill="url(#hatch)" stroke="#555" stroke-width="0.5" />
<rect x="95.00" y="225.50" width="2.60" height="10.80" fill="url(#hatch)" stroke="#555" stroke-width="0.5" />
<rect x="103.70" y="217.90" width="2.80" height="18.40" fill="#000" stroke="none" stroke-width="0.6" />
<text x="36.5" y="240.0" font-size="3.0" text-anchor="end" fill="#222" font-weight="bold" transform="rotate(-45 36.5 240.0)">UL83</text>
<text x="45.5" y="240.0" font-size="3.0" text-anchor="end" fill="#222" font-weight="bold" transform="rotate(-45 45.5 240.0)">UL78</text>
<text x="54.4" y="240.0" font-size="3.0" text-anchor="end" fill="#222" font-weight="bold" transform="rotate(-45 54.4 240.0)">US21</text>
<text x="63.3" y="240.0" font-size="3.0" text-anchor="end" fill="#222" font-weight="bold" transform="rotate(-45 63.3 240.0)">US24</text>
<text x="72.3" y="240.0" font-size="3.0" text-anchor="end" fill="#222" font-weight="bold" transform="rotate(-45 72.3 240.0)">Cw</text>
<text x="81.2" y="240.0" font-size="3.0" text-anchor="end" fill="#222" font-weight="bold" transform="rotate(-45 81.2 240.0)">A2402</text>
<text x="90.2" y="240.0" font-size="3.0" text-anchor="end" fill="#222" font-weight="bold" transform="rotate(-45 90.2 240.0)">B7002</text>
<text x="99.1" y="240.0" font-size="3.0" text-anchor="end" fill="#222" font-weight="bold" transform="rotate(-45 99.1 240.0)">Cw0202</text>
<text x="108.1" y="240.0" font-size="3.0" text-anchor="end" fill="#222" font-weight="bold" transform="rotate(-45 108.1 240.0)">PHA</text>
<line x1="130.5" y1="198.6" x2="130.5" y2="236.5" stroke="#aaa" stroke-width="0.5" />
<line x1="130.5" y1="236.5" x2="214.4" y2="236.5" stroke="#888" stroke-width="0.5" />
<text x="128.5" y="237.6" font-size="3.0" text-anchor="end" font-weight="bold" fill="#222" >0</text>
<text x="128.5" y="232.32857142857142" font-size="3.0" text-anchor="end" font-weight="bold" fill="#222" >0.1</text>
<text x="128.5" y="227.05714285714285" font-size="3.0" text-anchor="end" font-weight="bold" fill="#222" >0.2</text>
<text x="128.5" y="221.78571428571428" font-size="3.0" text-anchor="end" font-weight="bold" fill="#222" >0.3</text>
<text x="128.5" y="216.5142857142857" font-size="3.0" text-anchor="end" font-weight="bold" fill="#222" >0.4</text>
<text x="128.5" y="211.24285714285713" font-size="3.0" text-anchor="end" font-weight="bold" fill="#222" >0.5</text>
<text x="128.5" y="205.97142857142856" font-size="3.0" text-anchor="end" font-weight="bold" fill="#222" >0.6</text>
<text x="128.5" y="200.7" font-size="3.0" text-anchor="end" font-weight="bold" fill="#222" >0.7</text>
<rect x="132.80" y="234.00" width="2.80" height="2.50" fill="#fff" stroke="#555" stroke-width="0.45" />
<rect x="135.90" y="224.80" width="2.70" height="11.70" fill="#000" stroke="none" stroke-width="0.6" />
<rect x="141.90" y="234.00" width="2.90" height="2.50" fill="#fff" stroke="#555" stroke-width="0.45" />
<rect x="145.00" y="222.80" width="2.90" height="13.70" fill="#000" stroke="none" stroke-width="0.6" />
<rect x="151.20" y="234.00" width="2.60" height="2.50" fill="#fff" stroke="#555" stroke-width="0.45" />
<rect x="154.00" y="227.30" width="2.90" height="9.20" fill="#000" stroke="none" stroke-width="0.6" />
<rect x="160.30" y="234.00" width="2.50" height="2.50" fill="#fff" stroke="#555" stroke-width="0.45" />
<rect x="163.10" y="227.80" width="2.90" height="8.70" fill="#000" stroke="none" stroke-width="0.6" />
<rect x="170.20" y="233.70" width="2.70" height="2.80" fill="url(#hatch)" stroke="#555" stroke-width="0.5" />
<rect x="179.00" y="234.20" width="2.70" height="2.30" fill="url(#hatch)" stroke="#555" stroke-width="0.5" />
<rect x="188.30" y="234.20" width="2.80" height="2.30" fill="url(#hatch)" stroke="#555" stroke-width="0.5" />
<rect x="197.70" y="234.20" width="2.70" height="2.30" fill="url(#hatch)" stroke="#555" stroke-width="0.5" />
<rect x="206.30" y="214.80" width="3.40" height="21.70" fill="#000" stroke="none" stroke-width="0.6" />
<text x="136.8" y="240.0" font-size="3.0" text-anchor="end" fill="#222" font-weight="bold" transform="rotate(-45 136.8 240.0)">UL83</text>
<text x="146.0" y="240.0" font-size="3.0" text-anchor="end" fill="#222" font-weight="bold" transform="rotate(-45 146.0 240.0)">UL78</text>
<text x="155.2" y="240.0" font-size="3.0" text-anchor="end" fill="#222" font-weight="bold" transform="rotate(-45 155.2 240.0)">US21</text>
<text x="164.4" y="240.0" font-size="3.0" text-anchor="end" fill="#222" font-weight="bold" transform="rotate(-45 164.4 240.0)">US24</text>
<text x="173.6" y="240.0" font-size="3.0" text-anchor="end" fill="#222" font-weight="bold" transform="rotate(-45 173.6 240.0)">Cw</text>
<text x="182.8" y="240.0" font-size="3.0" text-anchor="end" fill="#222" font-weight="bold" transform="rotate(-45 182.8 240.0)">A2402</text>
<text x="192.0" y="240.0" font-size="3.0" text-anchor="end" fill="#222" font-weight="bold" transform="rotate(-45 192.0 240.0)">B7002</text>
<text x="201.2" y="240.0" font-size="3.0" text-anchor="end" fill="#222" font-weight="bold" transform="rotate(-45 201.2 240.0)">Cw0202</text>
<text x="210.4" y="240.0" font-size="3.0" text-anchor="end" fill="#222" font-weight="bold" transform="rotate(-45 210.4 240.0)">PHA</text>
<line x1="236.3" y1="199.3" x2="236.3" y2="235.7" stroke="#aaa" stroke-width="0.5" />
<line x1="236.3" y1="235.7" x2="320.6" y2="235.7" stroke="#888" stroke-width="0.5" />
<text x="234.3" y="236.79999999999998" font-size="3.0" text-anchor="end" font-weight="bold" fill="#222" >0</text>
<text x="234.3" y="231.74285714285713" font-size="3.0" text-anchor="end" font-weight="bold" fill="#222" >0.1</text>
<text x="234.3" y="226.68571428571428" font-size="3.0" text-anchor="end" font-weight="bold" fill="#222" >0.2</text>
<text x="234.3" y="221.62857142857143" font-size="3.0" text-anchor="end" font-weight="bold" fill="#222" >0.3</text>
<text x="234.3" y="216.57142857142856" font-size="3.0" text-anchor="end" font-weight="bold" fill="#222" >0.4</text>
<text x="234.3" y="211.5142857142857" font-size="3.0" text-anchor="end" font-weight="bold" fill="#222" >0.5</text>
<text x="234.3" y="206.45714285714286" font-size="3.0" text-anchor="end" font-weight="bold" fill="#222" >0.6</text>
<text x="234.3" y="201.4" font-size="3.0" text-anchor="end" font-weight="bold" fill="#222" >0.7</text>
<rect x="238.30" y="232.90" width="2.50" height="2.80" fill="#fff" stroke="#555" stroke-width="0.45" />
<rect x="241.30" y="203.60" width="2.80" height="32.10" fill="#000" stroke="none" stroke-width="0.6" />
<rect x="248.00" y="233.00" width="2.40" height="2.70" fill="#fff" stroke="#555" stroke-width="0.45" />
<rect x="250.80" y="205.30" width="2.80" height="30.40" fill="#000" stroke="none" stroke-width="0.6" />
<rect x="257.40" y="233.00" width="2.60" height="2.70" fill="#fff" stroke="#555" stroke-width="0.45" />
<rect x="260.30" y="206.60" width="2.70" height="29.10" fill="#000" stroke="none" stroke-width="0.6" />
<rect x="266.60" y="233.00" width="2.40" height="2.70" fill="#fff" stroke="#555" stroke-width="0.45" />
<rect x="269.40" y="205.00" width="2.60" height="30.70" fill="#000" stroke="none" stroke-width="0.6" />
<rect x="275.50" y="225.50" width="3.30" height="10.20" fill="url(#hatch)" stroke="#555" stroke-width="0.5" />
<rect x="285.00" y="226.10" width="2.90" height="9.60" fill="url(#hatch)" stroke="#555" stroke-width="0.5" />
<rect x="294.20" y="228.70" width="3.10" height="7.00" fill="url(#hatch)" stroke="#555" stroke-width="0.5" />
<rect x="303.30" y="225.20" width="3.40" height="10.50" fill="url(#hatch)" stroke="#555" stroke-width="0.5" />
<rect x="312.80" y="212.30" width="3.20" height="23.40" fill="#000" stroke="none" stroke-width="0.6" />
<text x="244.3" y="239.8" font-size="3.0" text-anchor="end" fill="#222" font-weight="bold" transform="rotate(-45 244.3 239.8)">UL83</text>
<text x="253.4" y="239.8" font-size="3.0" text-anchor="end" fill="#222" font-weight="bold" transform="rotate(-45 253.4 239.8)">UL78</text>
<text x="262.5" y="239.8" font-size="3.0" text-anchor="end" fill="#222" font-weight="bold" transform="rotate(-45 262.5 239.8)">US21</text>
<text x="271.6" y="239.8" font-size="3.0" text-anchor="end" fill="#222" font-weight="bold" transform="rotate(-45 271.6 239.8)">US24</text>
<text x="280.7" y="239.8" font-size="3.0" text-anchor="end" fill="#222" font-weight="bold" transform="rotate(-45 280.7 239.8)">Cw</text>
<text x="289.8" y="239.8" font-size="3.0" text-anchor="end" fill="#222" font-weight="bold" transform="rotate(-45 289.8 239.8)">A2402</text>
<text x="298.9" y="239.8" font-size="3.0" text-anchor="end" fill="#222" font-weight="bold" transform="rotate(-45 298.9 239.8)">B7002</text>
<text x="308.0" y="239.8" font-size="3.0" text-anchor="end" fill="#222" font-weight="bold" transform="rotate(-45 308.0 239.8)">Cw0202</text>
<text x="317.1" y="239.8" font-size="3.0" text-anchor="end" fill="#222" font-weight="bold" transform="rotate(-45 317.1 239.8)">PHA</text>
<line x1="31.9" y1="257.3" x2="31.9" y2="295.2" stroke="#aaa" stroke-width="0.5" />
<line x1="31.9" y1="295.2" x2="117.5" y2="295.2" stroke="#888" stroke-width="0.5" />
<text x="29.9" y="296.3" font-size="3.0" text-anchor="end" font-weight="bold" fill="#222" >0</text>
<text x="29.9" y="288.92" font-size="3.0" text-anchor="end" font-weight="bold" fill="#222" >0.2</text>
<text x="29.9" y="281.54" font-size="3.0" text-anchor="end" font-weight="bold" fill="#222" >0.4</text>
<text x="29.9" y="274.16" font-size="3.0" text-anchor="end" font-weight="bold" fill="#222" >0.6</text>
<text x="29.9" y="266.78000000000003" font-size="3.0" text-anchor="end" font-weight="bold" fill="#222" >0.8</text>
<text x="29.9" y="259.40000000000003" font-size="3.0" text-anchor="end" font-weight="bold" fill="#222" >1</text>
<rect x="34.60" y="291.30" width="3.10" height="3.90" fill="#fff" stroke="#555" stroke-width="0.45" />
<rect x="38.10" y="273.80" width="3.10" height="21.40" fill="#000" stroke="none" stroke-width="0.6" />
<rect x="45.00" y="291.30" width="3.20" height="3.90" fill="#fff" stroke="#555" stroke-width="0.45" />
<rect x="48.50" y="291.60" width="3.10" height="3.60" fill="#000" stroke="none" stroke-width="0.6" />
<rect x="55.60" y="290.30" width="3.20" height="4.90" fill="#fff" stroke="#555" stroke-width="0.45" />
<rect x="59.00" y="273.80" width="3.50" height="21.40" fill="#000" stroke="none" stroke-width="0.6" />
<rect x="66.30" y="291.00" width="3.10" height="4.20" fill="#fff" stroke="#555" stroke-width="0.45" />
<rect x="69.80" y="275.30" width="3.30" height="19.90" fill="#000" stroke="none" stroke-width="0.6" />
<rect x="77.10" y="291.50" width="3.30" height="3.70" fill="url(#hatch)" stroke="#555" stroke-width="0.5" />
<rect x="87.50" y="291.80" width="2.90" height="3.40" fill="url(#hatch)" stroke="#555" stroke-width="0.5" />
<rect x="98.30" y="292.30" width="3.00" height="2.90" fill="url(#hatch)" stroke="#555" stroke-width="0.5" />
<rect x="108.80" y="271.90" width="3.50" height="23.30" fill="#000" stroke="none" stroke-width="0.6" />
<text x="39.5" y="298.8" font-size="3.0" text-anchor="end" fill="#222" font-weight="bold" transform="rotate(-45 39.5 298.8)">UL36</text>
<text x="50.2" y="298.8" font-size="3.0" text-anchor="end" fill="#222" font-weight="bold" transform="rotate(-45 50.2 298.8)">UL75</text>
<text x="60.9" y="298.8" font-size="3.0" text-anchor="end" fill="#222" font-weight="bold" transform="rotate(-45 60.9 298.8)">UL77</text>
<text x="71.6" y="298.8" font-size="3.0" text-anchor="end" fill="#222" font-weight="bold" transform="rotate(-45 71.6 298.8)">UL75</text>
<text x="82.3" y="298.8" font-size="3.0" text-anchor="end" fill="#222" font-weight="bold" transform="rotate(-45 82.3 298.8)">Cw</text>
<text x="93.0" y="298.8" font-size="3.0" text-anchor="end" fill="#222" font-weight="bold" transform="rotate(-45 93.0 298.8)">A020</text>
<text x="103.7" y="298.8" font-size="3.0" text-anchor="end" fill="#222" font-weight="bold" transform="rotate(-45 103.7 298.8)">A030</text>
<text x="114.4" y="298.8" font-size="3.0" text-anchor="end" fill="#222" font-weight="bold" transform="rotate(-45 114.4 298.8)">PHA</text>
<line x1="137.7" y1="259.0" x2="137.7" y2="296.0" stroke="#aaa" stroke-width="0.5" />
<line x1="137.7" y1="296.0" x2="216.3" y2="296.0" stroke="#888" stroke-width="0.5" />
<text x="135.7" y="297.1" font-size="3.0" text-anchor="end" font-weight="bold" fill="#222" >0</text>
<text x="135.7" y="289.90000000000003" font-size="3.0" text-anchor="end" font-weight="bold" fill="#222" >0.2</text>
<text x="135.7" y="282.70000000000005" font-size="3.0" text-anchor="end" font-weight="bold" fill="#222" >0.4</text>
<text x="135.7" y="275.5" font-size="3.0" text-anchor="end" font-weight="bold" fill="#222" >0.6</text>
<text x="135.7" y="268.3" font-size="3.0" text-anchor="end" font-weight="bold" fill="#222" >0.8</text>
<text x="135.7" y="261.1" font-size="3.0" text-anchor="end" font-weight="bold" fill="#222" >1</text>
<rect x="140.10" y="288.10" width="2.80" height="7.90" fill="#fff" stroke="#555" stroke-width="0.45" />
<rect x="143.10" y="264.60" width="3.20" height="31.40" fill="#000" stroke="none" stroke-width="0.6" />
<rect x="149.80" y="289.20" width="2.80" height="6.80" fill="#fff" stroke="#555" stroke-width="0.45" />
<rect x="152.80" y="273.30" width="3.20" height="22.70" fill="#000" stroke="none" stroke-width="0.6" />
<rect x="159.50" y="287.10" width="2.80" height="8.90" fill="#fff" stroke="#555" stroke-width="0.45" />
<rect x="162.70" y="264.60" width="3.00" height="31.40" fill="#000" stroke="none" stroke-width="0.6" />
<rect x="169.20" y="289.50" width="2.80" height="6.50" fill="#fff" stroke="#555" stroke-width="0.45" />
<rect x="172.40" y="267.30" width="3.00" height="28.70" fill="#000" stroke="none" stroke-width="0.6" />
<rect x="179.50" y="289.40" width="3.30" height="6.60" fill="url(#hatch)" stroke="#555" stroke-width="0.5" />
<rect x="189.10" y="289.00" width="3.40" height="7.00" fill="url(#hatch)" stroke="#555" stroke-width="0.5" />
<rect x="199.00" y="286.20" width="2.80" height="9.80" fill="url(#hatch)" stroke="#555" stroke-width="0.5" />
<rect x="209.00" y="266.60" width="3.10" height="29.40" fill="#000" stroke="none" stroke-width="0.6" />
<text x="144.5" y="299.5" font-size="3.0" text-anchor="end" fill="#222" font-weight="bold" transform="rotate(-45 144.5 299.5)">UL36</text>
<text x="154.5" y="299.5" font-size="3.0" text-anchor="end" fill="#222" font-weight="bold" transform="rotate(-45 154.5 299.5)">UL75</text>
<text x="164.5" y="299.5" font-size="3.0" text-anchor="end" fill="#222" font-weight="bold" transform="rotate(-45 164.5 299.5)">UL77</text>
<text x="174.5" y="299.5" font-size="3.0" text-anchor="end" fill="#222" font-weight="bold" transform="rotate(-45 174.5 299.5)">UL75</text>
<text x="184.5" y="299.5" font-size="3.0" text-anchor="end" fill="#222" font-weight="bold" transform="rotate(-45 184.5 299.5)">Cw</text>
<text x="194.5" y="299.5" font-size="3.0" text-anchor="end" fill="#222" font-weight="bold" transform="rotate(-45 194.5 299.5)">A020</text>
<text x="204.5" y="299.5" font-size="3.0" text-anchor="end" fill="#222" font-weight="bold" transform="rotate(-45 204.5 299.5)">A030</text>
<text x="214.5" y="299.5" font-size="3.0" text-anchor="end" fill="#222" font-weight="bold" transform="rotate(-45 214.5 299.5)">PHA</text>
<line x1="236.9" y1="259.8" x2="236.9" y2="295.0" stroke="#aaa" stroke-width="0.5" />
<line x1="236.9" y1="295.0" x2="318.1" y2="295.0" stroke="#888" stroke-width="0.5" />
<text x="234.9" y="296.1" font-size="3.0" text-anchor="end" font-weight="bold" fill="#222" >0</text>
<text x="234.9" y="289.26000000000005" font-size="3.0" text-anchor="end" font-weight="bold" fill="#222" >0.2</text>
<text x="234.9" y="282.42" font-size="3.0" text-anchor="end" font-weight="bold" fill="#222" >0.4</text>
<text x="234.9" y="275.58000000000004" font-size="3.0" text-anchor="end" font-weight="bold" fill="#222" >0.6</text>
<text x="234.9" y="268.74" font-size="3.0" text-anchor="end" font-weight="bold" fill="#222" >0.8</text>
<text x="234.9" y="261.90000000000003" font-size="3.0" text-anchor="end" font-weight="bold" fill="#222" >1</text>
<rect x="239.00" y="290.50" width="3.50" height="4.50" fill="#fff" stroke="#555" stroke-width="0.45" />
<rect x="242.80" y="276.60" width="3.20" height="18.40" fill="#000" stroke="none" stroke-width="0.6" />
<rect x="249.40" y="290.50" width="3.10" height="4.50" fill="#fff" stroke="#555" stroke-width="0.45" />
<rect x="252.50" y="290.50" width="3.50" height="4.50" fill="#000" stroke="none" stroke-width="0.6" />
<rect x="259.10" y="291.00" width="3.50" height="4.00" fill="#fff" stroke="#555" stroke-width="0.45" />
<rect x="262.60" y="280.80" width="3.20" height="14.20" fill="#000" stroke="none" stroke-width="0.6" />
<rect x="269.50" y="290.50" width="3.20" height="4.50" fill="#fff" stroke="#555" stroke-width="0.45" />
<rect x="272.70" y="287.10" width="3.00" height="7.90" fill="#000" stroke="none" stroke-width="0.6" />
<rect x="280.10" y="291.40" width="2.70" height="3.60" fill="url(#hatch)" stroke="#555" stroke-width="0.5" />
<rect x="289.90" y="291.80" width="3.10" height="3.20" fill="url(#hatch)" stroke="#555" stroke-width="0.5" />
<rect x="300.30" y="292.10" width="2.80" height="2.90" fill="url(#hatch)" stroke="#555" stroke-width="0.5" />
<rect x="310.20" y="274.30" width="3.30" height="20.70" fill="#000" stroke="none" stroke-width="0.6" />
<text x="244.0" y="299.5" font-size="3.0" text-anchor="end" fill="#222" font-weight="bold" transform="rotate(-45 244.0 299.5)">UL36</text>
<text x="254.2" y="299.5" font-size="3.0" text-anchor="end" fill="#222" font-weight="bold" transform="rotate(-45 254.2 299.5)">UL75</text>
<text x="264.4" y="299.5" font-size="3.0" text-anchor="end" fill="#222" font-weight="bold" transform="rotate(-45 264.4 299.5)">UL77</text>
<text x="274.6" y="299.5" font-size="3.0" text-anchor="end" fill="#222" font-weight="bold" transform="rotate(-45 274.6 299.5)">UL75</text>
<text x="284.8" y="299.5" font-size="3.0" text-anchor="end" fill="#222" font-weight="bold" transform="rotate(-45 284.8 299.5)">Cw</text>
<text x="295.0" y="299.5" font-size="3.0" text-anchor="end" fill="#222" font-weight="bold" transform="rotate(-45 295.0 299.5)">A020</text>
<text x="305.2" y="299.5" font-size="3.0" text-anchor="end" fill="#222" font-weight="bold" transform="rotate(-45 305.2 299.5)">A030</text>
<text x="315.4" y="299.5" font-size="3.0" text-anchor="end" fill="#222" font-weight="bold" transform="rotate(-45 315.4 299.5)">PHA</text>
<text x="329.0" y="164.3" font-size="11" text-anchor="start" font-weight="bold" fill="#000" >D</text>
<line x1="351.5" y1="159.2" x2="351.5" y2="198.1" stroke="#555" stroke-width="0.6" />
<line x1="351.5" y1="200.8" x2="351.5" y2="239.4" stroke="#555" stroke-width="0.6" />
<line x1="351.5" y1="239.4" x2="469" y2="239.4" stroke="#555" stroke-width="0.55" />
<line x1="350.5" y1="159.5" x2="351.5" y2="159.5" stroke="#555" stroke-width="0.45" />
<text x="350.0" y="160.6" font-size="3.1" text-anchor="end" font-weight="bold" fill="#222" >40</text>
<line x1="350.5" y1="169.29999999999998" x2="351.5" y2="169.29999999999998" stroke="#555" stroke-width="0.45" />
<text x="350.0" y="170.39999999999998" font-size="3.1" text-anchor="end" font-weight="bold" fill="#222" >30</text>
<line x1="350.5" y1="179.1" x2="351.5" y2="179.1" stroke="#555" stroke-width="0.45" />
<text x="350.0" y="180.2" font-size="3.1" text-anchor="end" font-weight="bold" fill="#222" >20</text>
<line x1="350.5" y1="188.89999999999998" x2="351.5" y2="188.89999999999998" stroke="#555" stroke-width="0.45" />
<text x="350.0" y="189.99999999999997" font-size="3.1" text-anchor="end" font-weight="bold" fill="#222" >10</text>
<line x1="350.5" y1="201.3" x2="351.5" y2="201.3" stroke="#555" stroke-width="0.45" />
<text x="350.0" y="202.4" font-size="3.1" text-anchor="end" font-weight="bold" fill="#222" >1.0</text>
<line x1="350.5" y1="208.92000000000002" x2="351.5" y2="208.92000000000002" stroke="#555" stroke-width="0.45" />
<text x="350.0" y="210.02" font-size="3.1" text-anchor="end" font-weight="bold" fill="#222" >0.8</text>
<line x1="350.5" y1="216.54000000000002" x2="351.5" y2="216.54000000000002" stroke="#555" stroke-width="0.45" />
<text x="350.0" y="217.64000000000001" font-size="3.1" text-anchor="end" font-weight="bold" fill="#222" >0.6</text>
<line x1="350.5" y1="224.16" x2="351.5" y2="224.16" stroke="#555" stroke-width="0.45" />
<text x="350.0" y="225.26" font-size="3.1" text-anchor="end" font-weight="bold" fill="#222" >0.4</text>
<line x1="350.5" y1="231.78" x2="351.5" y2="231.78" stroke="#555" stroke-width="0.45" />
<text x="350.0" y="232.88" font-size="3.1" text-anchor="end" font-weight="bold" fill="#222" >0.2</text>
<line x1="350.5" y1="239.4" x2="351.5" y2="239.4" stroke="#555" stroke-width="0.45" />
<text x="350.0" y="240.5" font-size="3.1" text-anchor="end" font-weight="bold" fill="#222" >0.0</text>
<line x1="366.3" y1="239.4" x2="366.3" y2="240.4" stroke="#555" stroke-width="0.45" />
<text x="366.3" y="243.7" font-size="3.1" text-anchor="middle" font-weight="bold" fill="#222" >50</text>
<line x1="395.9" y1="239.4" x2="395.9" y2="240.4" stroke="#555" stroke-width="0.45" />
<text x="395.9" y="243.7" font-size="3.1" text-anchor="middle" font-weight="bold" fill="#222" >80</text>
<line x1="425.0" y1="239.4" x2="425.0" y2="240.4" stroke="#555" stroke-width="0.45" />
<text x="425.0" y="243.7" font-size="3.1" text-anchor="middle" font-weight="bold" fill="#222" >180</text>
<line x1="454.5" y1="239.4" x2="454.5" y2="240.4" stroke="#555" stroke-width="0.45" />
<text x="454.5" y="243.7" font-size="3.1" text-anchor="middle" font-weight="bold" fill="#222" >365</text>
<text x="410.3" y="249.3" font-size="3.9" text-anchor="middle" font-weight="bold" fill="#111" >Days</text>
<text x="340.6" y="201" font-size="3.5" text-anchor="middle" fill="#111" font-weight="bold" transform="rotate(-90 340.6 201)">Frequency Clones %</text>
<polyline points="366.3,184.0 395.9,175.2 425.0,182.0 454.5,159.5" fill="none" stroke="#222" stroke-width=".55"/>
<polyline points="366.3,188.9 395.9,192.3 425.0,192.5 454.5,192.5" fill="none" stroke="#222" stroke-width=".55"/>
<polyline points="366.3,191.8 395.9,195.8 425.0,192.5 454.5,238.6" fill="none" stroke="#222" stroke-width=".55"/>
<polyline points="366.3,194.8 395.9,222.3 425.0,195.5 454.5,229.5" fill="none" stroke="#222" stroke-width=".55"/>
<polyline points="366.3,193.8 395.9,227.2 425.0,219.6 454.5,197.5" fill="none" stroke="#222" stroke-width=".55"/>
<polyline points="366.3,195.8 395.9,197.2 425.0,236.4 454.5,229.5" fill="none" stroke="#222" stroke-width=".55"/>
<polyline points="366.3,196.2 395.9,238.3 425.0,228.0 454.5,233.3" fill="none" stroke="#222" stroke-width=".55"/>
<polyline points="366.3,196.7 395.9,238.3 425.0,237.5 454.5,234.4" fill="none" stroke="#222" stroke-width=".55"/>
<polyline points="366.3,195.3 395.9,224.2 425.0,237.1 454.5,231.8" fill="none" stroke="#222" stroke-width=".55"/>
<polyline points="366.3,197.2 395.9,196.5 425.0,196.3 454.5,204.3" fill="none" stroke="#222" stroke-width=".55"/>
<rect x="351.9" y="198.5" width="120" height="2.0" fill="#fff"/>
<circle cx="366.3" cy="184.0" r=".95" fill="#555" stroke="#222" stroke-width=".35"/>
<circle cx="395.9" cy="175.2" r=".95" fill="#555" stroke="#222" stroke-width=".35"/>
<circle cx="425.0" cy="182.0" r=".95" fill="#555" stroke="#222" stroke-width=".35"/>
<circle cx="454.5" cy="159.5" r=".95" fill="#555" stroke="#222" stroke-width=".35"/>
<circle cx="366.3" cy="188.9" r=".95" fill="#fff" stroke="#222" stroke-width=".5"/>
<circle cx="395.9" cy="192.3" r=".95" fill="#fff" stroke="#222" stroke-width=".5"/>
<circle cx="425.0" cy="192.5" r=".95" fill="#fff" stroke="#222" stroke-width=".5"/>
<circle cx="454.5" cy="192.5" r=".95" fill="#fff" stroke="#222" stroke-width=".5"/>
<path d="M366.3 190.60000000000002l1.2 1.2l-1.2 1.2l-1.2-1.2z" fill="#111"/>
<path d="M395.9 194.60000000000002l1.2 1.2l-1.2 1.2l-1.2-1.2z" fill="#111"/>
<path d="M425.0 191.3l1.2 1.2l-1.2 1.2l-1.2-1.2z" fill="#111"/>
<path d="M454.5 237.4l1.2 1.2l-1.2 1.2l-1.2-1.2z" fill="#111"/>
<rect x="365.40000000000003" y="193.9" width="1.8" height="1.8" fill="#111"/>
<rect x="395.0" y="221.4" width="1.8" height="1.8" fill="#111"/>
<rect x="424.1" y="194.6" width="1.8" height="1.8" fill="#111"/>
<rect x="453.6" y="228.6" width="1.8" height="1.8" fill="#111"/>
<path d="M366.3 192.70000000000002l1.1 1.9h-2.2z" fill="#222"/>
<path d="M395.9 226.1l1.1 1.9h-2.2z" fill="#222"/>
<path d="M425.0 218.5l1.1 1.9h-2.2z" fill="#222"/>
<path d="M454.5 196.4l1.1 1.9h-2.2z" fill="#222"/>
<circle cx="366.3" cy="195.8" r="1" fill="#111"/>
<circle cx="395.9" cy="197.2" r="1" fill="#111"/>
<circle cx="425.0" cy="236.4" r="1" fill="#111"/>
<circle cx="454.5" cy="229.5" r="1" fill="#111"/>
<circle cx="366.3" cy="196.2" r="1" fill="#111"/>
<circle cx="395.9" cy="238.3" r="1" fill="#111"/>
<circle cx="425.0" cy="228.0" r="1" fill="#111"/>
<circle cx="454.5" cy="233.3" r="1" fill="#111"/>
<rect x="365.40000000000003" y="195.79999999999998" width="1.8" height="1.8" fill="#111"/>
<rect x="395.0" y="237.4" width="1.8" height="1.8" fill="#111"/>
<rect x="424.1" y="236.6" width="1.8" height="1.8" fill="#111"/>
<rect x="453.6" y="233.5" width="1.8" height="1.8" fill="#111"/>
<path d="M366.3 194.10000000000002l1.2 2h-2.4z" fill="#111"/>
<path d="M395.9 223.0l1.2 2h-2.4z" fill="#111"/>
<path d="M425.0 235.9l1.2 2h-2.4z" fill="#111"/>
<path d="M454.5 230.60000000000002l1.2 2h-2.4z" fill="#111"/>
<path d="M366.3 198.29999999999998l1.1-1.9h-2.2z" fill="#222"/>
<path d="M395.9 197.6l1.1-1.9h-2.2z" fill="#222"/>
<path d="M425.0 197.4l1.1-1.9h-2.2z" fill="#222"/>
<path d="M454.5 205.4l1.1-1.9h-2.2z" fill="#222"/>
<line x1="471.6" y1="162.0" x2="476.4" y2="162.0" stroke="#333" stroke-width="0.5" />
<g transform="translate(474 162.0) scale(1.35) translate(-474 -162.0)">
<circle cx="474" cy="162.0" r=".95" fill="#555" stroke="#222" stroke-width=".35"/>
</g>
<text x="479.6" y="162.9" font-size="2.6" text-anchor="start" font-weight="normal" fill="#666" >CASSPVGELFF</text>
<line x1="471.6" y1="167.25" x2="476.4" y2="167.25" stroke="#333" stroke-width="0.5" />
<g transform="translate(474 167.25) scale(1.35) translate(-474 -167.25)">
<circle cx="474" cy="167.25" r=".95" fill="#fff" stroke="#222" stroke-width=".5"/>
</g>
<text x="479.6" y="168.15" font-size="2.6" text-anchor="start" font-weight="normal" fill="#666" >CASSQLRGNQPQHF</text>
<line x1="471.6" y1="172.5" x2="476.4" y2="172.5" stroke="#333" stroke-width="0.5" />
<g transform="translate(474 172.5) scale(1.35) translate(-474 -172.5)">
<path d="M474 171.3l1.2 1.2l-1.2 1.2l-1.2-1.2z" fill="#111"/>
</g>
<text x="479.6" y="173.4" font-size="2.6" text-anchor="start" font-weight="normal" fill="#666" >CASSGRSGNQPQHF</text>
<line x1="471.6" y1="177.75" x2="476.4" y2="177.75" stroke="#333" stroke-width="0.5" />
<g transform="translate(474 177.75) scale(1.35) translate(-474 -177.75)">
<rect x="473.1" y="176.85" width="1.8" height="1.8" fill="#111"/>
</g>
<text x="479.6" y="178.65" font-size="2.6" text-anchor="start" font-weight="normal" fill="#666" >CASSYRTGYF</text>
<line x1="471.6" y1="183.0" x2="476.4" y2="183.0" stroke="#333" stroke-width="0.5" />
<g transform="translate(474 183.0) scale(1.35) translate(-474 -183.0)">
<path d="M474 181.9l1.1 1.9h-2.2z" fill="#222"/>
</g>
<text x="479.6" y="183.9" font-size="2.6" text-anchor="start" font-weight="normal" fill="#666" >CASSTGDYSNQPQHF</text>
<line x1="471.6" y1="188.25" x2="476.4" y2="188.25" stroke="#333" stroke-width="0.5" />
<g transform="translate(474 188.25) scale(1.35) translate(-474 -188.25)">
<circle cx="474" cy="188.25" r="1" fill="#111"/>
</g>
<text x="479.6" y="189.15" font-size="2.6" text-anchor="start" font-weight="normal" fill="#666" >CASSLAGLAGGSYEQYF</text>
<line x1="471.6" y1="193.5" x2="476.4" y2="193.5" stroke="#333" stroke-width="0.5" />
<g transform="translate(474 193.5) scale(1.35) translate(-474 -193.5)">
<circle cx="474" cy="193.5" r="1" fill="#111"/>
</g>
<text x="479.6" y="194.4" font-size="2.6" text-anchor="start" font-weight="normal" fill="#666" >CASSLGQGANVLTF</text>
<line x1="471.6" y1="198.75" x2="476.4" y2="198.75" stroke="#333" stroke-width="0.5" />
<g transform="translate(474 198.75) scale(1.35) translate(-474 -198.75)">
<rect x="473.1" y="197.85" width="1.8" height="1.8" fill="#111"/>
</g>
<text x="479.6" y="199.65" font-size="2.6" text-anchor="start" font-weight="normal" fill="#666" >CASSRGGGNTGELF</text>
<line x1="471.6" y1="204.0" x2="476.4" y2="204.0" stroke="#333" stroke-width="0.5" />
<g transform="translate(474 204.0) scale(1.35) translate(-474 -204.0)">
<path d="M474 202.8l1.2 2h-2.4z" fill="#111"/>
</g>
<text x="479.6" y="204.9" font-size="2.6" text-anchor="start" font-weight="normal" fill="#666" >CASLTGGNQPQHF</text>
<line x1="471.6" y1="209.25" x2="476.4" y2="209.25" stroke="#333" stroke-width="0.5" />
<g transform="translate(474 209.25) scale(1.35) translate(-474 -209.25)">
<path d="M474 210.35l1.1-1.9h-2.2z" fill="#222"/>
</g>
<text x="479.6" y="210.15" font-size="2.6" text-anchor="start" font-weight="normal" fill="#666" >CASSGQGLYGYTF</text>
<line x1="351.5" y1="269.2" x2="351.5" y2="308.1" stroke="#555" stroke-width="0.6" />
<line x1="351.5" y1="310.8" x2="351.5" y2="349.4" stroke="#555" stroke-width="0.6" />
<line x1="351.5" y1="349.4" x2="462.5" y2="349.4" stroke="#555" stroke-width="0.55" />
<line x1="350.5" y1="269.5" x2="351.5" y2="269.5" stroke="#555" stroke-width="0.45" />
<text x="350.0" y="270.6" font-size="3.1" text-anchor="end" font-weight="bold" fill="#222" >40</text>
<line x1="350.5" y1="279.29999999999995" x2="351.5" y2="279.29999999999995" stroke="#555" stroke-width="0.45" />
<text x="350.0" y="280.4" font-size="3.1" text-anchor="end" font-weight="bold" fill="#222" >30</text>
<line x1="350.5" y1="289.1" x2="351.5" y2="289.1" stroke="#555" stroke-width="0.45" />
<text x="350.0" y="290.20000000000005" font-size="3.1" text-anchor="end" font-weight="bold" fill="#222" >20</text>
<line x1="350.5" y1="298.9" x2="351.5" y2="298.9" stroke="#555" stroke-width="0.45" />
<text x="350.0" y="300.0" font-size="3.1" text-anchor="end" font-weight="bold" fill="#222" >10</text>
<line x1="350.5" y1="311.3" x2="351.5" y2="311.3" stroke="#555" stroke-width="0.45" />
<text x="350.0" y="312.40000000000003" font-size="3.1" text-anchor="end" font-weight="bold" fill="#222" >1.0</text>
<line x1="350.5" y1="318.92" x2="351.5" y2="318.92" stroke="#555" stroke-width="0.45" />
<text x="350.0" y="320.02000000000004" font-size="3.1" text-anchor="end" font-weight="bold" fill="#222" >0.8</text>
<line x1="350.5" y1="326.54" x2="351.5" y2="326.54" stroke="#555" stroke-width="0.45" />
<text x="350.0" y="327.64000000000004" font-size="3.1" text-anchor="end" font-weight="bold" fill="#222" >0.6</text>
<line x1="350.5" y1="334.15999999999997" x2="351.5" y2="334.15999999999997" stroke="#555" stroke-width="0.45" />
<text x="350.0" y="335.26" font-size="3.1" text-anchor="end" font-weight="bold" fill="#222" >0.4</text>
<line x1="350.5" y1="341.78" x2="351.5" y2="341.78" stroke="#555" stroke-width="0.45" />
<text x="350.0" y="342.88" font-size="3.1" text-anchor="end" font-weight="bold" fill="#222" >0.2</text>
<line x1="350.5" y1="349.4" x2="351.5" y2="349.4" stroke="#555" stroke-width="0.45" />
<text x="350.0" y="350.5" font-size="3.1" text-anchor="end" font-weight="bold" fill="#222" >0.0</text>
<line x1="366.3" y1="349.4" x2="366.3" y2="350.4" stroke="#555" stroke-width="0.45" />
<text x="366.3" y="353.7" font-size="3.1" text-anchor="middle" font-weight="bold" fill="#222" >50</text>
<line x1="395.9" y1="349.4" x2="395.9" y2="350.4" stroke="#555" stroke-width="0.45" />
<text x="395.9" y="353.7" font-size="3.1" text-anchor="middle" font-weight="bold" fill="#222" >80</text>
<line x1="425.0" y1="349.4" x2="425.0" y2="350.4" stroke="#555" stroke-width="0.45" />
<text x="425.0" y="353.7" font-size="3.1" text-anchor="middle" font-weight="bold" fill="#222" >180</text>
<line x1="454.5" y1="349.4" x2="454.5" y2="350.4" stroke="#555" stroke-width="0.45" />
<text x="454.5" y="353.7" font-size="3.1" text-anchor="middle" font-weight="bold" fill="#222" >365</text>
<text x="410.3" y="359.3" font-size="3.9" text-anchor="middle" font-weight="bold" fill="#111" >Days</text>
<text x="340.6" y="311" font-size="3.5" text-anchor="middle" fill="#111" font-weight="bold" transform="rotate(-90 340.6 311)">Frequency Clones %</text>
<polyline points="366.3,294.0 395.9,285.2 425.0,292.0 454.5,269.5" fill="none" stroke="#222" stroke-width=".55"/>
<polyline points="366.3,298.9 395.9,302.3 425.0,302.5 454.5,302.5" fill="none" stroke="#222" stroke-width=".55"/>
<polyline points="366.3,301.8 395.9,305.8 425.0,302.5 454.5,348.6" fill="none" stroke="#222" stroke-width=".55"/>
<polyline points="366.3,304.8 395.9,332.3 425.0,305.5 454.5,339.5" fill="none" stroke="#222" stroke-width=".55"/>
<polyline points="366.3,303.8 395.9,337.2 425.0,329.6 454.5,307.5" fill="none" stroke="#222" stroke-width=".55"/>
<polyline points="366.3,305.8 395.9,307.2 425.0,346.4 454.5,339.5" fill="none" stroke="#222" stroke-width=".55"/>
<polyline points="366.3,306.2 395.9,348.3 425.0,338.0 454.5,343.3" fill="none" stroke="#222" stroke-width=".55"/>
<polyline points="366.3,306.7 395.9,348.3 425.0,347.5 454.5,344.4" fill="none" stroke="#222" stroke-width=".55"/>
<polyline points="366.3,305.3 395.9,334.2 425.0,347.1 454.5,341.8" fill="none" stroke="#222" stroke-width=".55"/>
<polyline points="366.3,307.2 395.9,306.5 425.0,306.3 454.5,314.3" fill="none" stroke="#222" stroke-width=".55"/>
<rect x="351.9" y="308.5" width="120" height="2.0" fill="#fff"/>
<circle cx="366.3" cy="294.0" r=".95" fill="#555" stroke="#222" stroke-width=".35"/>
<circle cx="395.9" cy="285.2" r=".95" fill="#555" stroke="#222" stroke-width=".35"/>
<circle cx="425.0" cy="292.0" r=".95" fill="#555" stroke="#222" stroke-width=".35"/>
<circle cx="454.5" cy="269.5" r=".95" fill="#555" stroke="#222" stroke-width=".35"/>
<circle cx="366.3" cy="298.9" r=".95" fill="#fff" stroke="#222" stroke-width=".5"/>
<circle cx="395.9" cy="302.3" r=".95" fill="#fff" stroke="#222" stroke-width=".5"/>
<circle cx="425.0" cy="302.5" r=".95" fill="#fff" stroke="#222" stroke-width=".5"/>
<circle cx="454.5" cy="302.5" r=".95" fill="#fff" stroke="#222" stroke-width=".5"/>
<path d="M366.3 300.6l1.2 1.2l-1.2 1.2l-1.2-1.2z" fill="#111"/>
<path d="M395.9 304.6l1.2 1.2l-1.2 1.2l-1.2-1.2z" fill="#111"/>
<path d="M425.0 301.3l1.2 1.2l-1.2 1.2l-1.2-1.2z" fill="#111"/>
<path d="M454.5 347.40000000000003l1.2 1.2l-1.2 1.2l-1.2-1.2z" fill="#111"/>
<rect x="365.40000000000003" y="303.90000000000003" width="1.8" height="1.8" fill="#111"/>
<rect x="395.0" y="331.40000000000003" width="1.8" height="1.8" fill="#111"/>
<rect x="424.1" y="304.6" width="1.8" height="1.8" fill="#111"/>
<rect x="453.6" y="338.6" width="1.8" height="1.8" fill="#111"/>
<path d="M366.3 302.7l1.1 1.9h-2.2z" fill="#222"/>
<path d="M395.9 336.09999999999997l1.1 1.9h-2.2z" fill="#222"/>
<path d="M425.0 328.5l1.1 1.9h-2.2z" fill="#222"/>
<path d="M454.5 306.4l1.1 1.9h-2.2z" fill="#222"/>
<circle cx="366.3" cy="305.8" r="1" fill="#111"/>
<circle cx="395.9" cy="307.2" r="1" fill="#111"/>
<circle cx="425.0" cy="346.4" r="1" fill="#111"/>
<circle cx="454.5" cy="339.5" r="1" fill="#111"/>
<circle cx="366.3" cy="306.2" r="1" fill="#111"/>
<circle cx="395.9" cy="348.3" r="1" fill="#111"/>
<circle cx="425.0" cy="338.0" r="1" fill="#111"/>
<circle cx="454.5" cy="343.3" r="1" fill="#111"/>
<rect x="365.40000000000003" y="305.8" width="1.8" height="1.8" fill="#111"/>
<rect x="395.0" y="347.40000000000003" width="1.8" height="1.8" fill="#111"/>
<rect x="424.1" y="346.6" width="1.8" height="1.8" fill="#111"/>
<rect x="453.6" y="343.5" width="1.8" height="1.8" fill="#111"/>
<path d="M366.3 304.1l1.2 2h-2.4z" fill="#111"/>
<path d="M395.9 333.0l1.2 2h-2.4z" fill="#111"/>
<path d="M425.0 345.90000000000003l1.2 2h-2.4z" fill="#111"/>
<path d="M454.5 340.6l1.2 2h-2.4z" fill="#111"/>
<path d="M366.3 308.3l1.1-1.9h-2.2z" fill="#222"/>
<path d="M395.9 307.6l1.1-1.9h-2.2z" fill="#222"/>
<path d="M425.0 307.40000000000003l1.1-1.9h-2.2z" fill="#222"/>
<path d="M454.5 315.40000000000003l1.1-1.9h-2.2z" fill="#222"/>
<line x1="471.6" y1="272.0" x2="476.4" y2="272.0" stroke="#333" stroke-width="0.5" />
<g transform="translate(474 272.0) scale(1.35) translate(-474 -272.0)">
<circle cx="474" cy="272.0" r=".95" fill="#555" stroke="#222" stroke-width=".35"/>
</g>
<text x="479.6" y="272.9" font-size="2.6" text-anchor="start" font-weight="normal" fill="#666" >CASSPVGELFF</text>
<line x1="471.6" y1="277.25" x2="476.4" y2="277.25" stroke="#333" stroke-width="0.5" />
<g transform="translate(474 277.25) scale(1.35) translate(-474 -277.25)">
<circle cx="474" cy="277.25" r=".95" fill="#fff" stroke="#222" stroke-width=".5"/>
</g>
<text x="479.6" y="278.15" font-size="2.6" text-anchor="start" font-weight="normal" fill="#666" >CASSQLRGNQPQHF</text>
<line x1="471.6" y1="282.5" x2="476.4" y2="282.5" stroke="#333" stroke-width="0.5" />
<g transform="translate(474 282.5) scale(1.35) translate(-474 -282.5)">
<path d="M474 281.3l1.2 1.2l-1.2 1.2l-1.2-1.2z" fill="#111"/>
</g>
<text x="479.6" y="283.4" font-size="2.6" text-anchor="start" font-weight="normal" fill="#666" >CASSGRSGNQPQHF</text>
<line x1="471.6" y1="287.75" x2="476.4" y2="287.75" stroke="#333" stroke-width="0.5" />
<g transform="translate(474 287.75) scale(1.35) translate(-474 -287.75)">
<rect x="473.1" y="286.85" width="1.8" height="1.8" fill="#111"/>
</g>
<text x="479.6" y="288.65" font-size="2.6" text-anchor="start" font-weight="normal" fill="#666" >CASSYRTGYF</text>
<line x1="471.6" y1="293.0" x2="476.4" y2="293.0" stroke="#333" stroke-width="0.5" />
<g transform="translate(474 293.0) scale(1.35) translate(-474 -293.0)">
<path d="M474 291.9l1.1 1.9h-2.2z" fill="#222"/>
</g>
<text x="479.6" y="293.9" font-size="2.6" text-anchor="start" font-weight="normal" fill="#666" >CASSTGDYSNQPQHF</text>
<line x1="471.6" y1="298.25" x2="476.4" y2="298.25" stroke="#333" stroke-width="0.5" />
<g transform="translate(474 298.25) scale(1.35) translate(-474 -298.25)">
<circle cx="474" cy="298.25" r="1" fill="#111"/>
</g>
<text x="479.6" y="299.15" font-size="2.6" text-anchor="start" font-weight="normal" fill="#666" >CASSLAGLAGGSYEQYF</text>
<line x1="471.6" y1="303.5" x2="476.4" y2="303.5" stroke="#333" stroke-width="0.5" />
<g transform="translate(474 303.5) scale(1.35) translate(-474 -303.5)">
<circle cx="474" cy="303.5" r="1" fill="#111"/>
</g>
<text x="479.6" y="304.4" font-size="2.6" text-anchor="start" font-weight="normal" fill="#666" >CASSLGQGANVLTF</text>
<line x1="471.6" y1="308.75" x2="476.4" y2="308.75" stroke="#333" stroke-width="0.5" />
<g transform="translate(474 308.75) scale(1.35) translate(-474 -308.75)">
<rect x="473.1" y="307.85" width="1.8" height="1.8" fill="#111"/>
</g>
<text x="479.6" y="309.65" font-size="2.6" text-anchor="start" font-weight="normal" fill="#666" >CASSRGGGNTGELF</text>
<line x1="471.6" y1="314.0" x2="476.4" y2="314.0" stroke="#333" stroke-width="0.5" />
<g transform="translate(474 314.0) scale(1.35) translate(-474 -314.0)">
<path d="M474 312.8l1.2 2h-2.4z" fill="#111"/>
</g>
<text x="479.6" y="314.9" font-size="2.6" text-anchor="start" font-weight="normal" fill="#666" >CASLTGGNQPQHF</text>
<line x1="471.6" y1="319.25" x2="476.4" y2="319.25" stroke="#333" stroke-width="0.5" />
<g transform="translate(474 319.25) scale(1.35) translate(-474 -319.25)">
<path d="M474 320.35l1.1-1.9h-2.2z" fill="#222"/>
</g>
<text x="479.6" y="320.15" font-size="2.6" text-anchor="start" font-weight="normal" fill="#666" >CASSGQGLYGYTF</text>
</svg></body></html>
